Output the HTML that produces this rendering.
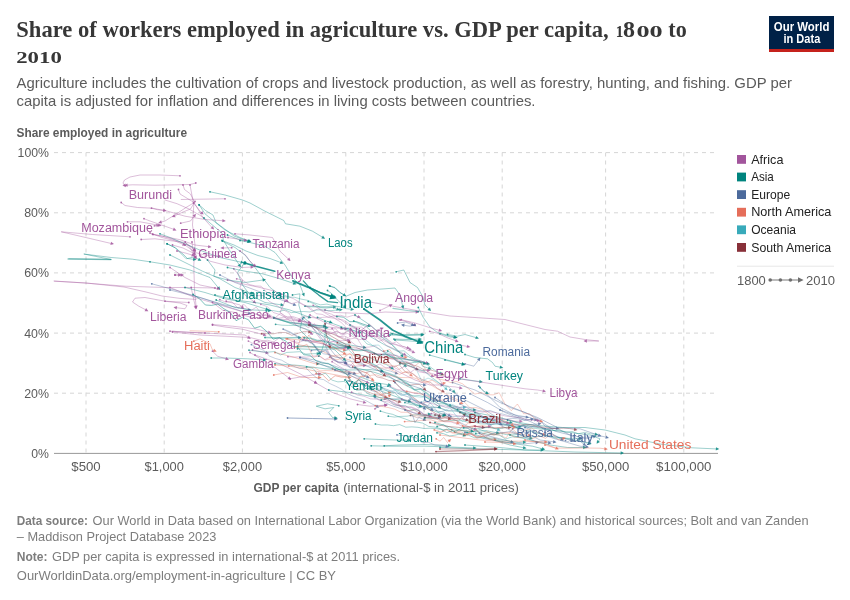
<!DOCTYPE html>
<html lang="en"><head><meta charset="utf-8"><title>Share of workers employed in agriculture vs. GDP per capita, 1800 to 2010</title>
<style>
html,body{margin:0;padding:0;background:#fff;}
body{width:850px;height:600px;overflow:hidden;}
svg{display:block;}
text{font-family:"Liberation Sans",sans-serif;}
.ttl{font-family:"Liberation Serif",serif;font-weight:700;fill:#373737;}
.sub{fill:#5b5b5b;font-size:15px;}
.tick{fill:#5b5b5b;font-size:13px;}
.ft{fill:#7d7d7d;font-size:13px;}
.lg{fill:#222;font-size:13px;}
.b{font-weight:700;}
</style></head><body>
<svg width="850" height="600" viewBox="0 0 850 600">
<rect width="850" height="600" fill="#fff"/>
<text class="ttl" font-size="24" y="36.8"><tspan x="16.3" textLength="592.3" lengthAdjust="spacingAndGlyphs">Share of workers employed in agriculture vs. GDP per capita,</tspan><tspan> </tspan><tspan x="615.7" font-size="17" textLength="7.6" lengthAdjust="spacingAndGlyphs">1</tspan><tspan x="622.9" textLength="12" lengthAdjust="spacingAndGlyphs">8</tspan><tspan x="636.4" font-size="17" textLength="26.2" lengthAdjust="spacingAndGlyphs">00</tspan><tspan> </tspan><tspan x="668.3" textLength="18.4" lengthAdjust="spacingAndGlyphs">to</tspan></text>
<text x="16.2" y="62.6" class="ttl" textLength="45.6" lengthAdjust="spacingAndGlyphs" font-size="17">2010</text>
<text x="16.5" y="88.1" class="sub" textLength="775.5" lengthAdjust="spacingAndGlyphs" >Agriculture includes the cultivation of crops and livestock production, as well as forestry, hunting, and fishing. GDP per</text>
<text x="16.5" y="106.2" class="sub" textLength="519.0" lengthAdjust="spacingAndGlyphs" >capita is adjusted for inflation and differences in living costs between countries.</text>
<rect x="769" y="16" width="65" height="36" fill="#002147"/><rect x="769" y="49" width="65" height="3" fill="#c5221c"/>
<text x="801.6" y="30.5" class="b" textLength="55.6" lengthAdjust="spacingAndGlyphs" text-anchor="middle" font-size="12" fill="#fff">Our World</text>
<text x="801.9" y="43.2" class="b" textLength="36.8" lengthAdjust="spacingAndGlyphs" text-anchor="middle" font-size="12" fill="#fff">in Data</text>
<text x="16.5" y="136.5" class="b" textLength="170.5" lengthAdjust="spacingAndGlyphs" font-size="12.5" fill="#5b5b5b">Share employed in agriculture</text>
<line x1="54" x2="718" y1="393.2" y2="393.2" stroke="#d6d6d6" stroke-width="1" stroke-dasharray="4,4"/>
<line x1="54" x2="718" y1="333.1" y2="333.1" stroke="#d6d6d6" stroke-width="1" stroke-dasharray="4,4"/>
<line x1="54" x2="718" y1="272.9" y2="272.9" stroke="#d6d6d6" stroke-width="1" stroke-dasharray="4,4"/>
<line x1="54" x2="718" y1="212.8" y2="212.8" stroke="#d6d6d6" stroke-width="1" stroke-dasharray="4,4"/>
<line x1="54" x2="718" y1="152.6" y2="152.6" stroke="#d6d6d6" stroke-width="1" stroke-dasharray="4,4"/>
<line x1="86.0" x2="86.0" y1="152.5" y2="453.4" stroke="#d6d6d6" stroke-width="1" stroke-dasharray="4,4"/>
<line x1="164.2" x2="164.2" y1="152.5" y2="453.4" stroke="#d6d6d6" stroke-width="1" stroke-dasharray="4,4"/>
<line x1="242.4" x2="242.4" y1="152.5" y2="453.4" stroke="#d6d6d6" stroke-width="1" stroke-dasharray="4,4"/>
<line x1="345.8" x2="345.8" y1="152.5" y2="453.4" stroke="#d6d6d6" stroke-width="1" stroke-dasharray="4,4"/>
<line x1="424.0" x2="424.0" y1="152.5" y2="453.4" stroke="#d6d6d6" stroke-width="1" stroke-dasharray="4,4"/>
<line x1="502.2" x2="502.2" y1="152.5" y2="453.4" stroke="#d6d6d6" stroke-width="1" stroke-dasharray="4,4"/>
<line x1="605.6" x2="605.6" y1="152.5" y2="453.4" stroke="#d6d6d6" stroke-width="1" stroke-dasharray="4,4"/>
<line x1="683.8" x2="683.8" y1="152.5" y2="453.4" stroke="#d6d6d6" stroke-width="1" stroke-dasharray="4,4"/>
<line x1="54" x2="718" y1="453.4" y2="453.4" stroke="#999" stroke-width="1"/>
<text x="49.0" y="457.8" class="tick" textLength="17.7" lengthAdjust="spacingAndGlyphs" text-anchor="end" >0%</text>
<text x="49.0" y="397.6" class="tick" textLength="24.8" lengthAdjust="spacingAndGlyphs" text-anchor="end" >20%</text>
<text x="49.0" y="337.5" class="tick" textLength="24.8" lengthAdjust="spacingAndGlyphs" text-anchor="end" >40%</text>
<text x="49.0" y="277.3" class="tick" textLength="24.8" lengthAdjust="spacingAndGlyphs" text-anchor="end" >60%</text>
<text x="49.0" y="217.2" class="tick" textLength="24.8" lengthAdjust="spacingAndGlyphs" text-anchor="end" >80%</text>
<text x="49.0" y="157.0" class="tick" textLength="31.4" lengthAdjust="spacingAndGlyphs" text-anchor="end" >100%</text>
<text x="86.0" y="471.3" class="tick" textLength="29.4" lengthAdjust="spacingAndGlyphs" text-anchor="middle" >$500</text>
<text x="164.2" y="471.3" class="tick" textLength="39.3" lengthAdjust="spacingAndGlyphs" text-anchor="middle" >$1,000</text>
<text x="242.4" y="471.3" class="tick" textLength="39.3" lengthAdjust="spacingAndGlyphs" text-anchor="middle" >$2,000</text>
<text x="345.8" y="471.3" class="tick" textLength="39.3" lengthAdjust="spacingAndGlyphs" text-anchor="middle" >$5,000</text>
<text x="424.0" y="471.3" class="tick" textLength="47.4" lengthAdjust="spacingAndGlyphs" text-anchor="middle" >$10,000</text>
<text x="502.2" y="471.3" class="tick" textLength="47.4" lengthAdjust="spacingAndGlyphs" text-anchor="middle" >$20,000</text>
<text x="605.6" y="471.3" class="tick" textLength="47.4" lengthAdjust="spacingAndGlyphs" text-anchor="middle" >$50,000</text>
<text x="683.8" y="471.3" class="tick" textLength="55.4" lengthAdjust="spacingAndGlyphs" text-anchor="middle" >$100,000</text>
<text y="492" font-size="13" fill="#5b5b5b"><tspan x="253.5" font-weight="700" textLength="85.4" lengthAdjust="spacingAndGlyphs">GDP per capita</tspan><tspan> </tspan><tspan x="343.2" textLength="175.8" lengthAdjust="spacingAndGlyphs">(international-$ in 2011 prices)</tspan></text>
<g fill="none" stroke-linejoin="round" stroke-linecap="round">
<path d="M180.0,175.8 L160.0,175.0 L140.0,175.0 L130.0,177.0 L124.5,180.0 L123.0,183.0 L125.0,186.0" stroke="#a2559c" stroke-width="0.70" stroke-opacity="0.55"/>
<circle cx="180.0" cy="175.8" r="0.9" fill="#a2559c" fill-opacity="0.80" stroke="none"/>
<path d="M125.9,187.3 L125.4,183.5 L122.5,185.4 Z" fill="#a2559c" fill-opacity="0.80" stroke="none"/>
<path d="M195.8,183.0 L190.0,184.5 L167.5,185.0 L155.0,185.2 L132.5,184.8 L125.8,185.2" stroke="#a2559c" stroke-width="0.70" stroke-opacity="0.55"/>
<circle cx="195.8" cy="183.0" r="0.9" fill="#a2559c" fill-opacity="0.80" stroke="none"/>
<path d="M124.2,185.4 L127.7,186.8 L127.5,183.4 Z" fill="#a2559c" fill-opacity="0.80" stroke="none"/>
<path d="M225.0,198.8 L200.0,199.2 L181.2,199.5" stroke="#a2559c" stroke-width="0.70" stroke-opacity="0.55"/>
<circle cx="225.0" cy="198.8" r="0.9" fill="#a2559c" fill-opacity="0.80" stroke="none"/>
<path d="M121.2,202.5 L125.0,205.5 L137.5,207.5 L152.5,208.2 L167.5,211.2 L185.0,216.2 L205.0,219.5 L224.2,220.8" stroke="#a2559c" stroke-width="0.70" stroke-opacity="0.55"/>
<circle cx="121.2" cy="202.5" r="0.9" fill="#a2559c" fill-opacity="0.80" stroke="none"/>
<path d="M225.8,220.9 L222.5,218.9 L222.3,222.3 Z" fill="#a2559c" fill-opacity="0.80" stroke="none"/>
<path d="M130.0,236.8 L92.5,234.5 L61.2,231.8 L75.0,235.0 L112.5,243.8" stroke="#a2559c" stroke-width="0.70" stroke-opacity="0.55"/>
<circle cx="130.0" cy="236.8" r="0.9" fill="#a2559c" fill-opacity="0.80" stroke="none"/>
<path d="M114.0,244.1 L111.1,241.7 L110.3,245.0 Z" fill="#a2559c" fill-opacity="0.80" stroke="none"/>
<path d="M150.0,261.8 L170.0,265.0 L190.0,270.0 L210.0,277.5 L219.2,288.8" stroke="#00847e" stroke-width="0.70" stroke-opacity="0.55"/>
<circle cx="150.0" cy="261.8" r="0.9" fill="#00847e" fill-opacity="0.80" stroke="none"/>
<path d="M220.2,289.9 L219.4,286.2 L216.8,288.4 Z" fill="#00847e" fill-opacity="0.80" stroke="none"/>
<path d="M150.0,261.8 L132.5,259.2 L111.2,257.5 L83.8,254.0 L111.2,259.5 L68.8,258.8" stroke="#00847e" stroke-width="0.70" stroke-opacity="0.55"/>
<path d="M215.0,288.0 L190.0,287.5 L165.0,287.5 L125.0,286.2 L85.0,283.0 L54.5,281.2" stroke="#a2559c" stroke-width="0.70" stroke-opacity="0.55"/>
<circle cx="215.0" cy="288.0" r="0.9" fill="#a2559c" fill-opacity="0.80" stroke="none"/>
<path d="M151.8,283.8 L175.0,290.0 L200.0,297.5 L225.0,305.0 L250.0,310.0" stroke="#4c6a9c" stroke-width="0.70" stroke-opacity="0.55"/>
<circle cx="151.8" cy="283.8" r="0.9" fill="#4c6a9c" fill-opacity="0.80" stroke="none"/>
<path d="M251.5,310.3 L248.5,308.0 L247.8,311.3 Z" fill="#4c6a9c" fill-opacity="0.80" stroke="none"/>
<path d="M199.2,205.0 L205.0,213.8 L212.5,220.0 L225.0,230.0 L240.0,237.5 L250.0,241.2" stroke="#00847e" stroke-width="0.70" stroke-opacity="0.55"/>
<circle cx="199.2" cy="205.0" r="0.9" fill="#00847e" fill-opacity="0.80" stroke="none"/>
<path d="M251.5,241.8 L248.9,239.0 L247.7,242.2 Z" fill="#00847e" fill-opacity="0.80" stroke="none"/>
<path d="M167.0,243.8 L175.0,247.5 L186.2,258.8 L193.8,257.0 L200.0,260.0" stroke="#00847e" stroke-width="0.70" stroke-opacity="0.55"/>
<circle cx="167.0" cy="243.8" r="0.9" fill="#00847e" fill-opacity="0.80" stroke="none"/>
<path d="M201.4,260.7 L199.1,257.7 L197.6,260.7 Z" fill="#00847e" fill-opacity="0.80" stroke="none"/>
<path d="M190.0,185.0 L193.8,205.0 L192.5,225.0 L195.0,245.0 L193.8,265.0 L194.5,290.0 L196.2,307.5" stroke="#a2559c" stroke-width="0.70" stroke-opacity="0.55"/>
<circle cx="190.0" cy="185.0" r="0.9" fill="#a2559c" fill-opacity="0.80" stroke="none"/>
<path d="M196.4,309.0 L197.8,305.5 L194.4,305.8 Z" fill="#a2559c" fill-opacity="0.80" stroke="none"/>
<path d="M175.0,275.0 L180.0,275.0" stroke="#a2559c" stroke-width="0.70" stroke-opacity="0.55"/>
<circle cx="175.0" cy="275.0" r="0.9" fill="#a2559c" fill-opacity="0.80" stroke="none"/>
<path d="M181.6,275.0 L178.1,273.3 L178.1,276.7 Z" fill="#a2559c" fill-opacity="0.80" stroke="none"/>
<path d="M127.5,221.8 L140.0,221.8 L160.0,225.5" stroke="#a2559c" stroke-width="0.70" stroke-opacity="0.55"/>
<circle cx="127.5" cy="221.8" r="0.9" fill="#a2559c" fill-opacity="0.80" stroke="none"/>
<path d="M161.5,225.8 L158.5,223.5 L157.9,226.8 Z" fill="#a2559c" fill-opacity="0.80" stroke="none"/>
<path d="M141.2,239.5 L155.0,238.8 L185.0,242.5 L192.5,247.5 L195.0,251.2" stroke="#a2559c" stroke-width="0.70" stroke-opacity="0.55"/>
<circle cx="141.2" cy="239.5" r="0.9" fill="#a2559c" fill-opacity="0.80" stroke="none"/>
<path d="M195.9,252.5 L195.4,248.8 L192.5,250.6 Z" fill="#a2559c" fill-opacity="0.80" stroke="none"/>
<path d="M152.5,234.2 L162.5,236.2 L175.0,240.0 L190.0,246.2 L195.0,250.0" stroke="#a2559c" stroke-width="0.70" stroke-opacity="0.55"/>
<circle cx="152.5" cy="234.2" r="0.9" fill="#a2559c" fill-opacity="0.80" stroke="none"/>
<path d="M196.2,250.9 L194.5,247.5 L192.5,250.2 Z" fill="#a2559c" fill-opacity="0.80" stroke="none"/>
<path d="M210.0,191.8 L225.0,195.0 L242.5,200.0 L250.0,203.0 L265.0,211.2 L283.8,220.5 L285.5,223.8 L300.0,226.2 L312.5,231.2 L323.8,238.0" stroke="#00847e" stroke-width="0.70" stroke-opacity="0.55"/>
<circle cx="210.0" cy="191.8" r="0.9" fill="#00847e" fill-opacity="0.80" stroke="none"/>
<path d="M325.1,238.8 L323.0,235.6 L321.3,238.5 Z" fill="#00847e" fill-opacity="0.80" stroke="none"/>
<path d="M54.0,281.0 L86.0,283.0 L124.0,287.0 L146.0,292.0 L162.0,296.0 L180.0,298.4 L196.0,299.4" stroke="#a2559c" stroke-width="0.70" stroke-opacity="0.55"/>
<path d="M68.0,259.0 L90.0,259.2 L111.0,259.5" stroke="#00847e" stroke-width="1.40" stroke-opacity="0.40"/>
<path d="M235.0,233.8 L250.0,235.0 L272.5,237.5 L280.0,251.2 L289.5,260.0" stroke="#a2559c" stroke-width="0.70" stroke-opacity="0.55"/>
<circle cx="235.0" cy="233.8" r="0.9" fill="#a2559c" fill-opacity="0.80" stroke="none"/>
<path d="M290.6,261.1 L289.3,257.5 L287.0,260.0 Z" fill="#a2559c" fill-opacity="0.80" stroke="none"/>
<path d="M240.0,240.5 L250.0,242.5 L265.0,246.2 L275.0,252.5 L285.0,265.0 L292.5,277.5 L300.0,285.0 L303.8,295.0" stroke="#00847e" stroke-width="0.70" stroke-opacity="0.55"/>
<circle cx="240.0" cy="240.5" r="0.9" fill="#00847e" fill-opacity="0.80" stroke="none"/>
<path d="M304.3,296.5 L304.7,292.7 L301.5,293.9 Z" fill="#00847e" fill-opacity="0.80" stroke="none"/>
<path d="M244.8,263.0 L256.7,266.6 L274.8,271.2" stroke="#00847e" stroke-width="1.50" stroke-opacity="0.85"/>
<circle cx="244.8" cy="263.0" r="1.7" fill="#00847e" fill-opacity="1.00" stroke="none"/>
<path d="M292.9,280.9 L308.4,287.3 L321.4,293.2 L333.6,297.5" stroke="#00847e" stroke-width="1.80" stroke-opacity="0.85"/>
<path d="M336.2,298.4 L331.5,293.5 L329.4,299.3 Z" fill="#00847e" fill-opacity="1.00" stroke="none"/>
<path d="M303.3,280.9 L310.4,288.6 L318.8,295.1 L327.9,301.6 L337.6,302.6" stroke="#00847e" stroke-width="1.30" stroke-opacity="0.80"/>
<path d="M329.5,285.8 L335.0,287.5 L340.0,292.5 L346.2,296.2 L355.0,292.5 L367.5,290.0 L385.0,288.8 L395.0,288.0 L400.0,295.0 L403.0,307.5" stroke="#00847e" stroke-width="0.70" stroke-opacity="0.55"/>
<circle cx="329.5" cy="285.8" r="0.9" fill="#00847e" fill-opacity="0.80" stroke="none"/>
<path d="M403.4,309.0 L404.2,305.3 L400.9,306.1 Z" fill="#00847e" fill-opacity="0.80" stroke="none"/>
<path d="M396.2,271.8 L403.8,270.0 L410.0,282.5 L417.5,287.5 L422.5,296.2 L425.0,305.0 L430.0,310.0" stroke="#00847e" stroke-width="0.70" stroke-opacity="0.55"/>
<circle cx="396.2" cy="271.8" r="0.9" fill="#00847e" fill-opacity="0.80" stroke="none"/>
<path d="M431.1,311.1 L429.9,307.5 L427.5,309.9 Z" fill="#00847e" fill-opacity="0.80" stroke="none"/>
<path d="M327.5,290.5 L332.5,294.2 L337.5,300.0 L345.0,307.5" stroke="#00847e" stroke-width="0.70" stroke-opacity="0.55"/>
<circle cx="327.5" cy="290.5" r="0.9" fill="#00847e" fill-opacity="0.80" stroke="none"/>
<path d="M346.1,308.6 L344.9,305.0 L342.5,307.4 Z" fill="#00847e" fill-opacity="0.80" stroke="none"/>
<path d="M380.0,310.5 L386.2,307.5 L391.2,305.0" stroke="#a2559c" stroke-width="0.70" stroke-opacity="0.55"/>
<circle cx="380.0" cy="310.5" r="0.9" fill="#a2559c" fill-opacity="0.80" stroke="none"/>
<path d="M392.6,304.3 L388.8,304.3 L390.3,307.4 Z" fill="#a2559c" fill-opacity="0.80" stroke="none"/>
<path d="M370.0,302.0 L400.0,307.5 L425.0,312.0 L450.0,316.0 L475.0,317.5 L505.0,319.5 L525.0,324.5 L545.0,329.5 L557.5,331.2 L570.0,337.0 L585.0,339.5 L598.8,341.0 L592.0,341.0 L585.0,341.0" stroke="#a2559c" stroke-width="0.70" stroke-opacity="0.55"/>
<circle cx="370.0" cy="302.0" r="0.9" fill="#a2559c" fill-opacity="0.80" stroke="none"/>
<path d="M583.5,341.0 L586.9,342.7 L586.9,339.3 Z" fill="#a2559c" fill-opacity="0.80" stroke="none"/>
<path d="M465.0,363.8 L473.8,366.2 L479.5,358.8" stroke="#4c6a9c" stroke-width="0.70" stroke-opacity="0.55"/>
<circle cx="465.0" cy="363.8" r="0.9" fill="#4c6a9c" fill-opacity="0.80" stroke="none"/>
<path d="M480.4,357.5 L477.0,359.2 L479.7,361.3 Z" fill="#4c6a9c" fill-opacity="0.80" stroke="none"/>
<path d="M465.0,354.5 L475.0,357.5 L487.5,358.8 L492.5,362.5 L495.0,366.2 L501.8,367.5" stroke="#00847e" stroke-width="0.70" stroke-opacity="0.55"/>
<circle cx="465.0" cy="354.5" r="0.9" fill="#00847e" fill-opacity="0.80" stroke="none"/>
<path d="M503.3,367.8 L500.2,365.5 L499.6,368.8 Z" fill="#00847e" fill-opacity="0.80" stroke="none"/>
<path d="M447.5,334.5 L457.5,336.2 L465.0,334.5 L477.5,338.0" stroke="#00847e" stroke-width="0.70" stroke-opacity="0.55"/>
<circle cx="447.5" cy="334.5" r="0.9" fill="#00847e" fill-opacity="0.80" stroke="none"/>
<path d="M479.0,338.4 L476.2,335.9 L475.2,339.1 Z" fill="#00847e" fill-opacity="0.80" stroke="none"/>
<path d="M440.0,333.8 L450.0,337.0 L456.2,337.5" stroke="#00847e" stroke-width="0.70" stroke-opacity="0.55"/>
<circle cx="440.0" cy="333.8" r="0.9" fill="#00847e" fill-opacity="0.80" stroke="none"/>
<path d="M457.8,337.6 L454.5,335.7 L454.3,339.1 Z" fill="#00847e" fill-opacity="0.80" stroke="none"/>
<path d="M460.0,345.0 L468.8,346.8" stroke="#a2559c" stroke-width="0.70" stroke-opacity="0.55"/>
<circle cx="460.0" cy="345.0" r="0.9" fill="#a2559c" fill-opacity="0.80" stroke="none"/>
<path d="M470.3,347.1 L467.3,344.7 L466.6,348.1 Z" fill="#a2559c" fill-opacity="0.80" stroke="none"/>
<path d="M445.0,360.0 L463.8,364.5" stroke="#00847e" stroke-width="0.70" stroke-opacity="0.55"/>
<circle cx="445.0" cy="360.0" r="0.9" fill="#00847e" fill-opacity="0.80" stroke="none"/>
<path d="M465.3,364.9 L462.3,362.4 L461.5,365.7 Z" fill="#00847e" fill-opacity="0.80" stroke="none"/>
<path d="M460.0,378.8 L481.2,381.8" stroke="#00847e" stroke-width="0.70" stroke-opacity="0.55"/>
<circle cx="460.0" cy="378.8" r="0.9" fill="#00847e" fill-opacity="0.80" stroke="none"/>
<path d="M482.8,382.0 L479.6,379.8 L479.2,383.2 Z" fill="#00847e" fill-opacity="0.80" stroke="none"/>
<path d="M435.0,375.0 L450.0,377.5 L475.0,381.2 L500.0,385.0 L525.0,388.8 L537.5,390.0 L544.5,391.2" stroke="#a2559c" stroke-width="0.70" stroke-opacity="0.55"/>
<circle cx="435.0" cy="375.0" r="0.9" fill="#a2559c" fill-opacity="0.80" stroke="none"/>
<path d="M546.0,391.5 L543.0,389.2 L542.4,392.6 Z" fill="#a2559c" fill-opacity="0.80" stroke="none"/>
<path d="M452.5,382.5 L475.0,390.0 L500.0,402.5 L525.0,412.5 L537.5,417.5 L557.5,427.5 L580.0,428.8 L600.0,435.8" stroke="#4c6a9c" stroke-width="0.70" stroke-opacity="0.55"/>
<circle cx="452.5" cy="382.5" r="0.9" fill="#4c6a9c" fill-opacity="0.80" stroke="none"/>
<path d="M601.5,436.3 L598.8,433.5 L597.7,436.7 Z" fill="#4c6a9c" fill-opacity="0.80" stroke="none"/>
<path d="M470.0,393.8 L487.5,402.5 L505.0,412.5 L525.0,420.5 L532.5,419.0" stroke="#4c6a9c" stroke-width="0.70" stroke-opacity="0.55"/>
<circle cx="470.0" cy="393.8" r="0.9" fill="#4c6a9c" fill-opacity="0.80" stroke="none"/>
<path d="M534.0,418.7 L530.3,417.7 L531.0,421.0 Z" fill="#4c6a9c" fill-opacity="0.80" stroke="none"/>
<path d="M478.8,386.2 L485.0,392.5 L500.0,407.5 L515.0,415.0 L532.5,422.5 L550.0,432.5 L562.5,440.0" stroke="#4c6a9c" stroke-width="0.70" stroke-opacity="0.55"/>
<circle cx="478.8" cy="386.2" r="0.9" fill="#4c6a9c" fill-opacity="0.80" stroke="none"/>
<path d="M563.8,440.8 L561.8,437.6 L560.0,440.5 Z" fill="#4c6a9c" fill-opacity="0.80" stroke="none"/>
<path d="M450.0,390.0 L465.0,400.0 L485.0,410.0 L505.0,422.5 L525.0,432.5 L540.0,440.0 L555.0,442.0" stroke="#4c6a9c" stroke-width="0.70" stroke-opacity="0.55"/>
<circle cx="450.0" cy="390.0" r="0.9" fill="#4c6a9c" fill-opacity="0.80" stroke="none"/>
<path d="M556.5,442.2 L553.4,440.1 L552.9,443.4 Z" fill="#4c6a9c" fill-opacity="0.80" stroke="none"/>
<path d="M460.0,403.8 L480.0,415.0 L500.0,425.0 L520.0,435.0 L535.0,441.2 L550.0,443.0" stroke="#4c6a9c" stroke-width="0.70" stroke-opacity="0.55"/>
<circle cx="460.0" cy="403.8" r="0.9" fill="#4c6a9c" fill-opacity="0.80" stroke="none"/>
<path d="M551.5,443.2 L548.4,441.1 L548.0,444.5 Z" fill="#4c6a9c" fill-opacity="0.80" stroke="none"/>
<path d="M495.0,397.5 L510.0,407.5 L525.0,412.5 L540.0,420.0 L545.0,426.2 L560.0,430.0 L575.0,437.5 L585.0,445.0" stroke="#4c6a9c" stroke-width="0.70" stroke-opacity="0.55"/>
<circle cx="495.0" cy="397.5" r="0.9" fill="#4c6a9c" fill-opacity="0.80" stroke="none"/>
<path d="M586.2,445.9 L584.5,442.5 L582.5,445.2 Z" fill="#4c6a9c" fill-opacity="0.80" stroke="none"/>
<path d="M500.0,410.0 L515.0,415.0 L530.0,417.5 L542.5,422.5 L555.0,431.2 L570.0,435.0 L586.2,438.8 L595.0,436.2" stroke="#4c6a9c" stroke-width="0.70" stroke-opacity="0.55"/>
<circle cx="500.0" cy="410.0" r="0.9" fill="#4c6a9c" fill-opacity="0.80" stroke="none"/>
<path d="M596.5,435.8 L592.7,435.1 L593.7,438.4 Z" fill="#4c6a9c" fill-opacity="0.80" stroke="none"/>
<path d="M445.0,415.0 L465.0,425.0 L485.0,435.0 L502.5,439.5 L512.5,442.0" stroke="#4c6a9c" stroke-width="0.70" stroke-opacity="0.55"/>
<circle cx="445.0" cy="415.0" r="0.9" fill="#4c6a9c" fill-opacity="0.80" stroke="none"/>
<path d="M514.0,442.4 L511.1,439.9 L510.3,443.2 Z" fill="#4c6a9c" fill-opacity="0.80" stroke="none"/>
<path d="M465.0,432.5 L485.0,438.8 L505.0,442.5 L525.0,443.8 L537.5,442.5" stroke="#4c6a9c" stroke-width="0.70" stroke-opacity="0.55"/>
<circle cx="465.0" cy="432.5" r="0.9" fill="#4c6a9c" fill-opacity="0.80" stroke="none"/>
<path d="M539.0,442.3 L535.5,441.0 L535.8,444.4 Z" fill="#4c6a9c" fill-opacity="0.80" stroke="none"/>
<path d="M525.0,427.5 L540.0,433.8 L555.0,438.8 L567.5,442.5 L580.0,446.2 L587.5,447.0" stroke="#4c6a9c" stroke-width="0.70" stroke-opacity="0.55"/>
<circle cx="525.0" cy="427.5" r="0.9" fill="#4c6a9c" fill-opacity="0.80" stroke="none"/>
<path d="M589.0,447.2 L585.8,445.1 L585.5,448.5 Z" fill="#4c6a9c" fill-opacity="0.80" stroke="none"/>
<path d="M545.0,432.5 L560.0,437.5 L570.0,440.0 L580.0,441.2 L590.0,443.0" stroke="#4c6a9c" stroke-width="0.70" stroke-opacity="0.55"/>
<circle cx="545.0" cy="432.5" r="0.9" fill="#4c6a9c" fill-opacity="0.80" stroke="none"/>
<path d="M591.5,443.3 L588.5,441.0 L587.9,444.4 Z" fill="#4c6a9c" fill-opacity="0.80" stroke="none"/>
<path d="M512.5,428.8 L525.0,425.0 L540.0,423.8" stroke="#4c6a9c" stroke-width="0.70" stroke-opacity="0.55"/>
<circle cx="512.5" cy="428.8" r="0.9" fill="#4c6a9c" fill-opacity="0.80" stroke="none"/>
<path d="M541.5,423.6 L538.0,422.2 L538.3,425.6 Z" fill="#4c6a9c" fill-opacity="0.80" stroke="none"/>
<path d="M580.0,437.5 L590.0,437.0 L600.0,435.8 L607.5,437.5" stroke="#4c6a9c" stroke-width="0.70" stroke-opacity="0.55"/>
<circle cx="580.0" cy="437.5" r="0.9" fill="#4c6a9c" fill-opacity="0.80" stroke="none"/>
<path d="M609.0,437.9 L606.1,435.4 L605.3,438.7 Z" fill="#4c6a9c" fill-opacity="0.80" stroke="none"/>
<path d="M480.0,387.5 L483.8,391.2 L487.5,393.2" stroke="#00847e" stroke-width="0.70" stroke-opacity="0.55"/>
<circle cx="480.0" cy="387.5" r="0.9" fill="#00847e" fill-opacity="0.80" stroke="none"/>
<path d="M488.9,394.0 L486.7,390.9 L485.1,393.9 Z" fill="#00847e" fill-opacity="0.80" stroke="none"/>
<path d="M507.5,420.0 L532.5,425.0 L562.5,427.5 L585.0,427.5 L605.0,430.0 L625.0,435.0 L635.0,438.8 L641.2,440.0 L660.0,444.0 L692.0,447.8 L717.8,449.0" stroke="#00847e" stroke-width="0.70" stroke-opacity="0.55"/>
<circle cx="507.5" cy="420.0" r="0.9" fill="#00847e" fill-opacity="0.80" stroke="none"/>
<path d="M719.3,449.1 L716.0,447.2 L715.8,450.6 Z" fill="#00847e" fill-opacity="0.80" stroke="none"/>
<path d="M450.0,405.0 L475.0,415.0 L500.0,422.5 L525.0,430.0 L550.0,436.2 L575.0,440.0 L590.0,443.8" stroke="#00847e" stroke-width="0.70" stroke-opacity="0.55"/>
<circle cx="450.0" cy="405.0" r="0.9" fill="#00847e" fill-opacity="0.80" stroke="none"/>
<path d="M591.5,444.1 L588.6,441.6 L587.8,445.0 Z" fill="#00847e" fill-opacity="0.80" stroke="none"/>
<path d="M475.0,412.5 L500.0,417.5 L525.0,425.0 L550.0,430.0 L570.0,432.5 L590.0,435.0 L600.0,438.8 L597.5,442.5" stroke="#00847e" stroke-width="0.70" stroke-opacity="0.55"/>
<circle cx="475.0" cy="412.5" r="0.9" fill="#00847e" fill-opacity="0.80" stroke="none"/>
<path d="M596.6,443.8 L600.0,441.9 L597.1,440.0 Z" fill="#00847e" fill-opacity="0.80" stroke="none"/>
<path d="M440.0,447.5 L475.0,448.8 L525.0,450.0 L575.0,452.0 L622.5,453.0" stroke="#00847e" stroke-width="0.70" stroke-opacity="0.55"/>
<circle cx="440.0" cy="447.5" r="0.9" fill="#00847e" fill-opacity="0.80" stroke="none"/>
<path d="M624.0,453.0 L620.7,451.3 L620.6,454.7 Z" fill="#00847e" fill-opacity="0.80" stroke="none"/>
<path d="M465.0,445.0 L500.0,447.5 L525.0,450.0 L542.5,450.0" stroke="#00847e" stroke-width="0.70" stroke-opacity="0.55"/>
<circle cx="465.0" cy="445.0" r="0.9" fill="#00847e" fill-opacity="0.80" stroke="none"/>
<path d="M544.0,450.0 L540.6,448.3 L540.6,451.7 Z" fill="#00847e" fill-opacity="0.80" stroke="none"/>
<path d="M495.0,440.0 L515.0,443.8 L532.5,446.2 L543.8,449.2" stroke="#00847e" stroke-width="0.70" stroke-opacity="0.55"/>
<circle cx="495.0" cy="440.0" r="0.9" fill="#00847e" fill-opacity="0.80" stroke="none"/>
<path d="M545.2,449.6 L542.4,447.1 L541.5,450.4 Z" fill="#00847e" fill-opacity="0.80" stroke="none"/>
<path d="M510.0,435.0 L530.0,440.0 L550.0,445.0 L567.5,447.5 L585.0,447.5" stroke="#00847e" stroke-width="0.70" stroke-opacity="0.55"/>
<circle cx="510.0" cy="435.0" r="0.9" fill="#00847e" fill-opacity="0.80" stroke="none"/>
<path d="M586.5,447.5 L583.1,445.8 L583.1,449.2 Z" fill="#00847e" fill-opacity="0.80" stroke="none"/>
<path d="M435.0,422.5 L460.0,430.0 L485.0,437.5 L510.0,445.0 L525.0,448.0" stroke="#00847e" stroke-width="0.70" stroke-opacity="0.55"/>
<circle cx="435.0" cy="422.5" r="0.9" fill="#00847e" fill-opacity="0.80" stroke="none"/>
<path d="M526.5,448.3 L523.5,446.0 L522.8,449.3 Z" fill="#00847e" fill-opacity="0.80" stroke="none"/>
<path d="M457.5,409.5 L465.0,409.5 L475.0,410.0" stroke="#00847e" stroke-width="0.70" stroke-opacity="0.55"/>
<circle cx="457.5" cy="409.5" r="0.9" fill="#00847e" fill-opacity="0.80" stroke="none"/>
<path d="M476.5,410.1 L473.2,408.2 L473.1,411.6 Z" fill="#00847e" fill-opacity="0.80" stroke="none"/>
<path d="M440.0,435.0 L460.0,437.5 L480.0,440.0 L500.0,441.2 L525.0,441.2 L546.2,442.0" stroke="#e56e5a" stroke-width="0.70" stroke-opacity="0.55"/>
<circle cx="440.0" cy="435.0" r="0.9" fill="#e56e5a" fill-opacity="0.80" stroke="none"/>
<path d="M547.8,442.1 L544.5,440.2 L544.3,443.6 Z" fill="#e56e5a" fill-opacity="0.80" stroke="none"/>
<path d="M485.0,442.0 L500.0,442.5 L515.0,443.8" stroke="#e56e5a" stroke-width="0.70" stroke-opacity="0.55"/>
<circle cx="485.0" cy="442.0" r="0.9" fill="#e56e5a" fill-opacity="0.80" stroke="none"/>
<path d="M516.5,443.9 L513.3,441.9 L513.0,445.3 Z" fill="#e56e5a" fill-opacity="0.80" stroke="none"/>
<path d="M545.0,445.0 L555.0,448.0 L570.0,448.2 L585.0,448.0 L600.0,448.2 L606.2,449.0" stroke="#e56e5a" stroke-width="0.70" stroke-opacity="0.55"/>
<circle cx="545.0" cy="445.0" r="0.9" fill="#e56e5a" fill-opacity="0.80" stroke="none"/>
<path d="M607.8,449.2 L604.6,447.1 L604.2,450.5 Z" fill="#e56e5a" fill-opacity="0.80" stroke="none"/>
<path d="M525.0,440.0 L545.0,443.8 L557.5,448.8" stroke="#e56e5a" stroke-width="0.70" stroke-opacity="0.55"/>
<circle cx="525.0" cy="440.0" r="0.9" fill="#e56e5a" fill-opacity="0.80" stroke="none"/>
<path d="M558.9,449.3 L556.4,446.5 L555.1,449.6 Z" fill="#e56e5a" fill-opacity="0.80" stroke="none"/>
<path d="M460.0,412.5 L465.0,415.0 L462.5,418.8 L467.5,420.0" stroke="#883039" stroke-width="0.70" stroke-opacity="0.55"/>
<circle cx="460.0" cy="412.5" r="0.9" fill="#883039" fill-opacity="0.80" stroke="none"/>
<path d="M469.0,420.4 L466.1,417.9 L465.3,421.2 Z" fill="#883039" fill-opacity="0.80" stroke="none"/>
<path d="M435.0,415.0 L450.0,417.5 L460.0,419.5 L465.0,414.0" stroke="#883039" stroke-width="0.70" stroke-opacity="0.55"/>
<circle cx="435.0" cy="415.0" r="0.9" fill="#883039" fill-opacity="0.80" stroke="none"/>
<path d="M466.0,412.9 L462.5,414.2 L465.0,416.5 Z" fill="#883039" fill-opacity="0.80" stroke="none"/>
<path d="M475.0,426.2 L485.0,427.5 L500.0,428.0 L510.0,427.5" stroke="#883039" stroke-width="0.70" stroke-opacity="0.55"/>
<circle cx="475.0" cy="426.2" r="0.9" fill="#883039" fill-opacity="0.80" stroke="none"/>
<path d="M511.5,427.4 L508.1,425.9 L508.2,429.3 Z" fill="#883039" fill-opacity="0.80" stroke="none"/>
<path d="M440.0,449.0 L465.0,449.0 L485.0,449.2 L496.2,448.8" stroke="#883039" stroke-width="0.70" stroke-opacity="0.55"/>
<circle cx="440.0" cy="449.0" r="0.9" fill="#883039" fill-opacity="0.80" stroke="none"/>
<path d="M497.8,448.7 L494.3,447.1 L494.5,450.5 Z" fill="#883039" fill-opacity="0.80" stroke="none"/>
<path d="M430.0,422.5 L445.0,426.2 L460.0,427.5 L472.5,426.2 L483.8,427.5" stroke="#883039" stroke-width="0.70" stroke-opacity="0.55"/>
<circle cx="430.0" cy="422.5" r="0.9" fill="#883039" fill-opacity="0.80" stroke="none"/>
<path d="M485.3,427.7 L482.1,425.6 L481.7,429.0 Z" fill="#883039" fill-opacity="0.80" stroke="none"/>
<path d="M475.0,426.2 L482.5,427.5 L490.0,426.2" stroke="#a2559c" stroke-width="0.70" stroke-opacity="0.55"/>
<circle cx="475.0" cy="426.2" r="0.9" fill="#a2559c" fill-opacity="0.80" stroke="none"/>
<path d="M491.5,426.0 L487.9,424.9 L488.4,428.2 Z" fill="#a2559c" fill-opacity="0.80" stroke="none"/>
<path d="M364.0,309.0 L380.0,320.0 L392.5,330.0 L405.0,336.2 L420.8,342.5" stroke="#00847e" stroke-width="1.70" stroke-opacity="0.85"/>
<circle cx="364.0" cy="309.0" r="0.9" fill="#00847e" fill-opacity="1.00" stroke="none"/>
<path d="M423.4,343.5 L418.8,338.4 L416.5,344.1 Z" fill="#00847e" fill-opacity="1.00" stroke="none"/>
<path d="M390.0,333.0 L402.5,336.0 L411.2,339.5" stroke="#00847e" stroke-width="1.20" stroke-opacity="0.50"/>
<path d="M287.5,418.0 L312.5,418.5 L336.2,419.0" stroke="#4c6a9c" stroke-width="1.00" stroke-opacity="0.55"/>
<circle cx="287.5" cy="418.0" r="0.9" fill="#4c6a9c" fill-opacity="0.80" stroke="none"/>
<path d="M337.8,419.0 L334.4,417.3 L334.4,420.7 Z" fill="#4c6a9c" fill-opacity="0.80" stroke="none"/>
<path d="M338.8,405.8 L327.5,403.8 L316.2,406.2 L325.0,408.8 L333.8,407.5 L328.8,412.5 L332.5,417.5 L336.2,418.0" stroke="#00847e" stroke-width="0.70" stroke-opacity="0.55"/>
<circle cx="338.8" cy="405.8" r="0.9" fill="#00847e" fill-opacity="0.80" stroke="none"/>
<path d="M337.8,418.2 L334.6,416.1 L334.2,419.4 Z" fill="#00847e" fill-opacity="0.80" stroke="none"/>
<path d="M364.2,438.8 L380.0,439.5 L395.0,440.0 L410.0,440.2" stroke="#00847e" stroke-width="0.70" stroke-opacity="0.55"/>
<circle cx="364.2" cy="438.8" r="0.9" fill="#00847e" fill-opacity="0.80" stroke="none"/>
<path d="M411.5,440.3 L408.2,438.5 L408.1,441.9 Z" fill="#00847e" fill-opacity="0.80" stroke="none"/>
<path d="M371.2,445.8 L390.0,446.2 L425.0,446.2 L450.0,447.0 L475.0,448.0" stroke="#00847e" stroke-width="0.70" stroke-opacity="0.55"/>
<circle cx="371.2" cy="445.8" r="0.9" fill="#00847e" fill-opacity="0.80" stroke="none"/>
<path d="M476.5,448.1 L473.2,446.2 L473.1,449.6 Z" fill="#00847e" fill-opacity="0.80" stroke="none"/>
<path d="M384.2,445.8 L400.0,445.0 L425.0,444.5 L450.0,445.5" stroke="#00847e" stroke-width="0.70" stroke-opacity="0.55"/>
<circle cx="384.2" cy="445.8" r="0.9" fill="#00847e" fill-opacity="0.80" stroke="none"/>
<path d="M451.5,445.6 L448.2,443.7 L448.1,447.1 Z" fill="#00847e" fill-opacity="0.80" stroke="none"/>
<path d="M297.5,347.5 L300.0,340.0 L303.0,336.2 L305.5,341.2 L308.8,335.0 L312.5,340.0 L320.0,342.5 L332.5,347.5 L345.0,353.8" stroke="#e56e5a" stroke-width="0.70" stroke-opacity="0.55"/>
<circle cx="297.5" cy="347.5" r="0.9" fill="#e56e5a" fill-opacity="0.80" stroke="none"/>
<path d="M346.4,354.4 L344.1,351.4 L342.6,354.4 Z" fill="#e56e5a" fill-opacity="0.80" stroke="none"/>
<path d="M273.8,375.0 L287.5,372.5 L302.5,377.5 L320.0,377.5" stroke="#e56e5a" stroke-width="0.70" stroke-opacity="0.55"/>
<circle cx="273.8" cy="375.0" r="0.9" fill="#e56e5a" fill-opacity="0.80" stroke="none"/>
<path d="M321.6,377.5 L318.1,375.8 L318.1,379.2 Z" fill="#e56e5a" fill-opacity="0.80" stroke="none"/>
<path d="M275.0,352.5 L295.0,357.5 L315.0,363.8 L318.0,363.8" stroke="#e56e5a" stroke-width="0.70" stroke-opacity="0.55"/>
<circle cx="275.0" cy="352.5" r="0.9" fill="#e56e5a" fill-opacity="0.80" stroke="none"/>
<path d="M319.6,363.8 L316.1,362.0 L316.1,365.5 Z" fill="#e56e5a" fill-opacity="0.80" stroke="none"/>
<path d="M287.5,338.8 L300.0,345.0 L315.0,347.5 L330.0,355.0 L350.0,360.0 L360.0,372.5 L363.8,377.5 L367.0,372.5 L372.0,378.8 L375.0,385.0 L380.0,392.5 L386.2,397.5" stroke="#e56e5a" stroke-width="0.70" stroke-opacity="0.55"/>
<circle cx="287.5" cy="338.8" r="0.9" fill="#e56e5a" fill-opacity="0.80" stroke="none"/>
<path d="M387.5,398.5 L385.9,395.0 L383.7,397.7 Z" fill="#e56e5a" fill-opacity="0.80" stroke="none"/>
<path d="M375.0,395.0 L380.0,398.0 L385.0,399.5 L390.0,395.0" stroke="#e56e5a" stroke-width="0.70" stroke-opacity="0.55"/>
<circle cx="375.0" cy="395.0" r="0.9" fill="#e56e5a" fill-opacity="0.80" stroke="none"/>
<path d="M391.2,394.0 L387.5,395.0 L389.8,397.5 Z" fill="#e56e5a" fill-opacity="0.80" stroke="none"/>
<path d="M332.5,368.8 L350.0,375.0 L367.5,385.0 L380.0,395.0 L390.0,392.5" stroke="#e56e5a" stroke-width="0.70" stroke-opacity="0.55"/>
<circle cx="332.5" cy="368.8" r="0.9" fill="#e56e5a" fill-opacity="0.80" stroke="none"/>
<path d="M391.5,392.1 L387.8,391.3 L388.6,394.6 Z" fill="#e56e5a" fill-opacity="0.80" stroke="none"/>
<path d="M436.2,438.8 L440.0,441.2 L443.8,437.5 L447.5,442.5 L450.0,440.0" stroke="#e56e5a" stroke-width="0.70" stroke-opacity="0.55"/>
<circle cx="436.2" cy="438.8" r="0.9" fill="#e56e5a" fill-opacity="0.80" stroke="none"/>
<path d="M451.1,438.9 L447.5,440.1 L449.9,442.5 Z" fill="#e56e5a" fill-opacity="0.80" stroke="none"/>
<path d="M250.0,352.5 L275.0,367.5 L290.0,378.8" stroke="#a2559c" stroke-width="0.70" stroke-opacity="0.55"/>
<circle cx="250.0" cy="352.5" r="0.9" fill="#a2559c" fill-opacity="0.80" stroke="none"/>
<path d="M291.2,379.7 L289.5,376.3 L287.5,379.0 Z" fill="#a2559c" fill-opacity="0.80" stroke="none"/>
<path d="M255.0,355.0 L280.0,363.8 L300.0,373.8 L316.2,383.0" stroke="#a2559c" stroke-width="0.70" stroke-opacity="0.55"/>
<circle cx="255.0" cy="355.0" r="0.9" fill="#a2559c" fill-opacity="0.80" stroke="none"/>
<path d="M317.6,383.8 L315.5,380.6 L313.8,383.6 Z" fill="#a2559c" fill-opacity="0.80" stroke="none"/>
<path d="M315.0,382.5 L332.5,392.5 L350.0,398.8 L365.0,402.5" stroke="#a2559c" stroke-width="0.70" stroke-opacity="0.55"/>
<circle cx="315.0" cy="382.5" r="0.9" fill="#a2559c" fill-opacity="0.80" stroke="none"/>
<path d="M366.5,402.9 L363.6,400.4 L362.8,403.7 Z" fill="#a2559c" fill-opacity="0.80" stroke="none"/>
<path d="M357.5,404.5 L370.0,406.2 L386.2,405.0" stroke="#a2559c" stroke-width="0.70" stroke-opacity="0.55"/>
<circle cx="357.5" cy="404.5" r="0.9" fill="#a2559c" fill-opacity="0.80" stroke="none"/>
<path d="M387.8,404.9 L384.3,403.4 L384.5,406.8 Z" fill="#a2559c" fill-opacity="0.80" stroke="none"/>
<path d="M375.0,408.8 L380.0,406.2 L386.2,405.0" stroke="#a2559c" stroke-width="0.70" stroke-opacity="0.55"/>
<circle cx="375.0" cy="408.8" r="0.9" fill="#a2559c" fill-opacity="0.80" stroke="none"/>
<path d="M387.8,404.7 L384.1,403.7 L384.8,407.0 Z" fill="#a2559c" fill-opacity="0.80" stroke="none"/>
<path d="M400.0,320.0 L410.0,322.5 L415.0,325.5" stroke="#a2559c" stroke-width="0.70" stroke-opacity="0.55"/>
<circle cx="400.0" cy="320.0" r="0.9" fill="#a2559c" fill-opacity="0.80" stroke="none"/>
<path d="M416.3,326.3 L414.3,323.1 L412.5,326.0 Z" fill="#a2559c" fill-opacity="0.80" stroke="none"/>
<path d="M325.0,310.0 L335.0,312.5 L350.0,313.0 L367.5,313.8 L385.0,312.0 L400.0,312.5 L417.5,312.0" stroke="#a2559c" stroke-width="0.70" stroke-opacity="0.55"/>
<circle cx="325.0" cy="310.0" r="0.9" fill="#a2559c" fill-opacity="0.80" stroke="none"/>
<path d="M419.0,312.0 L415.6,310.3 L415.7,313.8 Z" fill="#a2559c" fill-opacity="0.80" stroke="none"/>
<path d="M300.0,320.0 L315.0,325.0 L332.5,327.5 L346.2,328.8" stroke="#a2559c" stroke-width="0.70" stroke-opacity="0.55"/>
<circle cx="300.0" cy="320.0" r="0.9" fill="#a2559c" fill-opacity="0.80" stroke="none"/>
<path d="M347.8,328.9 L344.6,326.9 L344.2,330.3 Z" fill="#a2559c" fill-opacity="0.80" stroke="none"/>
<path d="M390.0,367.5 L400.0,372.5 L415.0,380.0 L430.0,385.0 L442.5,385.0" stroke="#a2559c" stroke-width="0.70" stroke-opacity="0.55"/>
<circle cx="390.0" cy="367.5" r="0.9" fill="#a2559c" fill-opacity="0.80" stroke="none"/>
<path d="M444.1,385.0 L440.6,383.3 L440.6,386.7 Z" fill="#a2559c" fill-opacity="0.80" stroke="none"/>
<path d="M346.2,363.8 L355.0,366.2 L365.0,365.5" stroke="#a2559c" stroke-width="0.70" stroke-opacity="0.55"/>
<circle cx="346.2" cy="363.8" r="0.9" fill="#a2559c" fill-opacity="0.80" stroke="none"/>
<path d="M366.5,365.4 L363.0,363.9 L363.3,367.3 Z" fill="#a2559c" fill-opacity="0.80" stroke="none"/>
<path d="M310.0,323.8 L317.5,335.0 L325.0,345.0 L332.5,360.0 L340.0,362.5 L346.2,363.0" stroke="#a2559c" stroke-width="0.70" stroke-opacity="0.55"/>
<circle cx="310.0" cy="323.8" r="0.9" fill="#a2559c" fill-opacity="0.80" stroke="none"/>
<path d="M347.8,363.1 L344.5,361.2 L344.3,364.6 Z" fill="#a2559c" fill-opacity="0.80" stroke="none"/>
<path d="M273.8,317.5 L295.0,325.0 L315.0,332.5 L332.5,340.0 L350.0,345.0 L365.0,347.5" stroke="#00847e" stroke-width="0.70" stroke-opacity="0.55"/>
<circle cx="273.8" cy="317.5" r="0.9" fill="#00847e" fill-opacity="0.80" stroke="none"/>
<path d="M366.5,347.8 L363.4,345.5 L362.9,348.9 Z" fill="#00847e" fill-opacity="0.80" stroke="none"/>
<path d="M297.5,348.8 L315.0,349.5 L332.5,349.0 L348.8,347.5" stroke="#00847e" stroke-width="0.70" stroke-opacity="0.55"/>
<circle cx="297.5" cy="348.8" r="0.9" fill="#00847e" fill-opacity="0.80" stroke="none"/>
<path d="M350.3,347.4 L346.7,346.0 L347.1,349.4 Z" fill="#00847e" fill-opacity="0.80" stroke="none"/>
<path d="M318.8,356.2 L321.2,352.5 L325.0,340.0 L325.0,325.0 L327.5,321.2 L331.2,322.5" stroke="#00847e" stroke-width="0.70" stroke-opacity="0.55"/>
<circle cx="318.8" cy="356.2" r="0.9" fill="#00847e" fill-opacity="0.80" stroke="none"/>
<path d="M332.7,323.0 L330.0,320.3 L328.9,323.5 Z" fill="#00847e" fill-opacity="0.80" stroke="none"/>
<path d="M303.8,317.5 L315.0,327.5 L325.0,335.0 L337.5,342.5 L350.0,347.5" stroke="#00847e" stroke-width="0.70" stroke-opacity="0.55"/>
<circle cx="303.8" cy="317.5" r="0.9" fill="#00847e" fill-opacity="0.80" stroke="none"/>
<path d="M351.4,348.1 L348.9,345.2 L347.6,348.4 Z" fill="#00847e" fill-opacity="0.80" stroke="none"/>
<path d="M275.0,363.8 L300.0,365.5 L325.0,368.8 L350.0,370.0 L370.0,369.5 L382.5,371.2" stroke="#00847e" stroke-width="0.70" stroke-opacity="0.55"/>
<circle cx="275.0" cy="363.8" r="0.9" fill="#00847e" fill-opacity="0.80" stroke="none"/>
<path d="M384.0,371.5 L380.9,369.3 L380.4,372.7 Z" fill="#00847e" fill-opacity="0.80" stroke="none"/>
<path d="M317.5,363.8 L337.5,368.8 L355.0,375.0 L375.0,382.5 L390.0,385.0" stroke="#00847e" stroke-width="0.70" stroke-opacity="0.55"/>
<circle cx="317.5" cy="363.8" r="0.9" fill="#00847e" fill-opacity="0.80" stroke="none"/>
<path d="M391.5,385.3 L388.4,383.0 L387.9,386.4 Z" fill="#00847e" fill-opacity="0.80" stroke="none"/>
<path d="M328.8,390.0 L350.0,392.5 L370.0,396.2 L390.0,398.8 L410.0,401.2" stroke="#00847e" stroke-width="0.70" stroke-opacity="0.55"/>
<circle cx="328.8" cy="390.0" r="0.9" fill="#00847e" fill-opacity="0.80" stroke="none"/>
<path d="M411.5,401.4 L408.4,399.3 L407.9,402.7 Z" fill="#00847e" fill-opacity="0.80" stroke="none"/>
<path d="M355.0,315.0 L370.0,325.0 L385.0,337.5 L397.5,350.0 L402.5,356.2" stroke="#00847e" stroke-width="0.70" stroke-opacity="0.55"/>
<circle cx="355.0" cy="315.0" r="0.9" fill="#00847e" fill-opacity="0.80" stroke="none"/>
<path d="M403.5,357.5 L402.7,353.7 L400.0,355.9 Z" fill="#00847e" fill-opacity="0.80" stroke="none"/>
<path d="M350.0,325.0 L367.5,335.0 L385.0,345.0 L400.0,352.5 L415.0,360.0 L425.0,363.8" stroke="#00847e" stroke-width="0.70" stroke-opacity="0.55"/>
<circle cx="350.0" cy="325.0" r="0.9" fill="#00847e" fill-opacity="0.80" stroke="none"/>
<path d="M426.5,364.3 L423.9,361.5 L422.7,364.7 Z" fill="#00847e" fill-opacity="0.80" stroke="none"/>
<path d="M390.0,335.0 L405.0,335.5 L422.5,335.0" stroke="#00847e" stroke-width="0.70" stroke-opacity="0.55"/>
<circle cx="390.0" cy="335.0" r="0.9" fill="#00847e" fill-opacity="0.80" stroke="none"/>
<path d="M424.0,335.0 L420.6,333.3 L420.7,336.8 Z" fill="#00847e" fill-opacity="0.80" stroke="none"/>
<path d="M395.0,340.0 L410.0,341.0 L422.5,342.0" stroke="#00847e" stroke-width="0.70" stroke-opacity="0.55"/>
<circle cx="395.0" cy="340.0" r="0.9" fill="#00847e" fill-opacity="0.80" stroke="none"/>
<path d="M424.0,342.1 L420.8,340.2 L420.5,343.6 Z" fill="#00847e" fill-opacity="0.80" stroke="none"/>
<path d="M400.0,363.8 L410.0,363.2 L420.0,361.2 L422.5,366.2 L430.0,368.8" stroke="#00847e" stroke-width="0.70" stroke-opacity="0.55"/>
<circle cx="400.0" cy="363.8" r="0.9" fill="#00847e" fill-opacity="0.80" stroke="none"/>
<path d="M431.5,369.2 L428.8,366.5 L427.7,369.8 Z" fill="#00847e" fill-opacity="0.80" stroke="none"/>
<path d="M355.0,367.5 L375.0,372.5 L390.0,377.5 L405.0,385.0 L420.0,392.5 L430.0,400.0 L440.0,407.5" stroke="#00847e" stroke-width="0.70" stroke-opacity="0.55"/>
<circle cx="355.0" cy="367.5" r="0.9" fill="#00847e" fill-opacity="0.80" stroke="none"/>
<path d="M441.2,408.4 L439.5,405.0 L437.5,407.7 Z" fill="#00847e" fill-opacity="0.80" stroke="none"/>
<path d="M345.0,380.0 L365.0,385.0 L385.0,392.5 L405.0,400.0 L425.0,407.5 L445.0,415.0" stroke="#00847e" stroke-width="0.70" stroke-opacity="0.55"/>
<circle cx="345.0" cy="380.0" r="0.9" fill="#00847e" fill-opacity="0.80" stroke="none"/>
<path d="M446.5,415.5 L443.9,412.8 L442.7,415.9 Z" fill="#00847e" fill-opacity="0.80" stroke="none"/>
<path d="M300.0,357.5 L320.0,363.8 L335.0,370.0 L350.0,373.8" stroke="#4c6a9c" stroke-width="0.70" stroke-opacity="0.55"/>
<circle cx="300.0" cy="357.5" r="0.9" fill="#4c6a9c" fill-opacity="0.80" stroke="none"/>
<path d="M351.5,374.1 L348.6,371.6 L347.8,375.0 Z" fill="#4c6a9c" fill-opacity="0.80" stroke="none"/>
<path d="M302.5,318.8 L315.0,330.0 L325.0,342.5 L335.0,355.0 L346.2,363.2" stroke="#4c6a9c" stroke-width="0.70" stroke-opacity="0.55"/>
<circle cx="302.5" cy="318.8" r="0.9" fill="#4c6a9c" fill-opacity="0.80" stroke="none"/>
<path d="M347.5,364.2 L345.8,360.8 L343.7,363.5 Z" fill="#4c6a9c" fill-opacity="0.80" stroke="none"/>
<path d="M335.0,370.0 L355.0,377.5 L375.0,385.0 L395.0,392.5 L410.0,397.5 L425.0,408.8" stroke="#4c6a9c" stroke-width="0.70" stroke-opacity="0.55"/>
<circle cx="335.0" cy="370.0" r="0.9" fill="#4c6a9c" fill-opacity="0.80" stroke="none"/>
<path d="M426.2,409.7 L424.5,406.3 L422.5,409.0 Z" fill="#4c6a9c" fill-opacity="0.80" stroke="none"/>
<path d="M381.2,371.2 L395.0,380.0 L410.0,385.0 L425.0,390.0 L440.0,397.5" stroke="#4c6a9c" stroke-width="0.70" stroke-opacity="0.55"/>
<circle cx="381.2" cy="371.2" r="0.9" fill="#4c6a9c" fill-opacity="0.80" stroke="none"/>
<path d="M441.4,398.2 L439.1,395.1 L437.6,398.2 Z" fill="#4c6a9c" fill-opacity="0.80" stroke="none"/>
<path d="M350.0,357.5 L370.0,367.5 L390.0,375.0 L410.0,382.5 L425.0,385.0" stroke="#4c6a9c" stroke-width="0.70" stroke-opacity="0.55"/>
<circle cx="350.0" cy="357.5" r="0.9" fill="#4c6a9c" fill-opacity="0.80" stroke="none"/>
<path d="M426.5,385.3 L423.4,383.0 L422.9,386.4 Z" fill="#4c6a9c" fill-opacity="0.80" stroke="none"/>
<path d="M405.0,410.0 L412.5,415.0 L415.0,422.5 L418.8,417.5 L425.0,420.0" stroke="#4c6a9c" stroke-width="0.70" stroke-opacity="0.55"/>
<circle cx="405.0" cy="410.0" r="0.9" fill="#4c6a9c" fill-opacity="0.80" stroke="none"/>
<path d="M426.4,420.6 L423.9,417.7 L422.6,420.9 Z" fill="#4c6a9c" fill-opacity="0.80" stroke="none"/>
<path d="M375.0,397.5 L390.0,405.0 L405.0,410.0 L420.0,415.0 L440.0,417.5" stroke="#4c6a9c" stroke-width="0.70" stroke-opacity="0.55"/>
<circle cx="375.0" cy="397.5" r="0.9" fill="#4c6a9c" fill-opacity="0.80" stroke="none"/>
<path d="M441.5,417.7 L438.4,415.6 L437.9,419.0 Z" fill="#4c6a9c" fill-opacity="0.80" stroke="none"/>
<path d="M415.0,325.0 L410.0,326.2 L402.5,325.0" stroke="#4c6a9c" stroke-width="0.70" stroke-opacity="0.55"/>
<circle cx="415.0" cy="325.0" r="0.9" fill="#4c6a9c" fill-opacity="0.80" stroke="none"/>
<path d="M401.0,324.7 L404.1,327.0 L404.6,323.6 Z" fill="#4c6a9c" fill-opacity="0.80" stroke="none"/>
<path d="M395.0,382.5 L405.0,392.5 L415.0,400.0 L425.0,405.0 L432.5,410.0" stroke="#4c6a9c" stroke-width="0.70" stroke-opacity="0.55"/>
<circle cx="395.0" cy="382.5" r="0.9" fill="#4c6a9c" fill-opacity="0.80" stroke="none"/>
<path d="M433.8,410.9 L431.9,407.5 L430.0,410.4 Z" fill="#4c6a9c" fill-opacity="0.80" stroke="none"/>
<path d="M310.0,325.0 L325.0,332.5 L340.0,341.2 L350.0,347.0" stroke="#883039" stroke-width="0.70" stroke-opacity="0.55"/>
<circle cx="310.0" cy="325.0" r="0.9" fill="#883039" fill-opacity="0.80" stroke="none"/>
<path d="M351.3,347.8 L349.2,344.6 L347.5,347.6 Z" fill="#883039" fill-opacity="0.80" stroke="none"/>
<path d="M350.0,347.0 L355.0,355.0 L362.5,360.0 L375.0,367.5 L385.0,375.5" stroke="#883039" stroke-width="0.70" stroke-opacity="0.55"/>
<circle cx="350.0" cy="347.0" r="0.9" fill="#883039" fill-opacity="0.80" stroke="none"/>
<path d="M386.2,376.5 L384.6,373.0 L382.5,375.7 Z" fill="#883039" fill-opacity="0.80" stroke="none"/>
<path d="M393.8,381.2 L400.0,387.5 L410.0,395.0 L420.0,402.5 L430.0,410.0 L440.0,416.2" stroke="#883039" stroke-width="0.70" stroke-opacity="0.55"/>
<circle cx="393.8" cy="381.2" r="0.9" fill="#883039" fill-opacity="0.80" stroke="none"/>
<path d="M441.3,417.1 L439.3,413.8 L437.5,416.7 Z" fill="#883039" fill-opacity="0.80" stroke="none"/>
<path d="M400.0,362.5 L410.0,366.2 L417.5,369.5" stroke="#883039" stroke-width="0.70" stroke-opacity="0.55"/>
<circle cx="400.0" cy="362.5" r="0.9" fill="#883039" fill-opacity="0.80" stroke="none"/>
<path d="M418.9,370.1 L416.5,367.2 L415.1,370.3 Z" fill="#883039" fill-opacity="0.80" stroke="none"/>
<path d="M425.0,417.5 L435.0,418.8 L445.0,418.0 L450.0,419.0" stroke="#883039" stroke-width="0.70" stroke-opacity="0.55"/>
<circle cx="425.0" cy="417.5" r="0.9" fill="#883039" fill-opacity="0.80" stroke="none"/>
<path d="M451.5,419.3 L448.5,417.0 L447.8,420.3 Z" fill="#883039" fill-opacity="0.80" stroke="none"/>
<path d="M436.0,451.6 L470.0,450.4 L496.0,449.0" stroke="#883039" stroke-width="1.30" stroke-opacity="0.50"/>
<circle cx="436.0" cy="451.6" r="0.9" fill="#883039" fill-opacity="0.75" stroke="none"/>
<path d="M497.5,448.9 L494.1,447.4 L494.2,450.8 Z" fill="#883039" fill-opacity="0.75" stroke="none"/>
<path d="M188.8,302.5 L165.0,301.2 L145.0,297.5 L135.0,298.2 L132.5,302.0 L138.8,306.2 L147.0,310.5" stroke="#a2559c" stroke-width="0.70" stroke-opacity="0.55"/>
<circle cx="188.8" cy="302.5" r="0.9" fill="#a2559c" fill-opacity="0.80" stroke="none"/>
<path d="M148.4,311.2 L146.1,308.1 L144.6,311.2 Z" fill="#a2559c" fill-opacity="0.80" stroke="none"/>
<path d="M165.0,301.2 L180.0,303.0 L187.0,305.5 L185.0,308.8 L175.0,307.5" stroke="#a2559c" stroke-width="0.70" stroke-opacity="0.55"/>
<circle cx="165.0" cy="301.2" r="0.9" fill="#a2559c" fill-opacity="0.80" stroke="none"/>
<path d="M173.5,307.3 L176.6,309.4 L177.1,306.0 Z" fill="#a2559c" fill-opacity="0.80" stroke="none"/>
<path d="M205.0,333.0 L190.0,332.5 L172.5,331.2" stroke="#a2559c" stroke-width="0.70" stroke-opacity="0.55"/>
<circle cx="205.0" cy="333.0" r="0.9" fill="#a2559c" fill-opacity="0.80" stroke="none"/>
<path d="M218.8,331.8 L205.0,331.2 L190.0,330.8" stroke="#e56e5a" stroke-width="0.70" stroke-opacity="0.55"/>
<circle cx="218.8" cy="331.8" r="0.9" fill="#e56e5a" fill-opacity="0.80" stroke="none"/>
<path d="M193.8,341.2 L200.0,338.8 L210.0,343.8 L212.5,350.0 L215.2,351.0" stroke="#e56e5a" stroke-width="0.70" stroke-opacity="0.55"/>
<circle cx="193.8" cy="341.2" r="0.9" fill="#e56e5a" fill-opacity="0.80" stroke="none"/>
<path d="M216.7,351.5 L214.1,348.8 L212.9,352.0 Z" fill="#e56e5a" fill-opacity="0.80" stroke="none"/>
<path d="M211.2,358.0 L225.0,358.0 L247.5,358.8 L265.0,360.0" stroke="#00847e" stroke-width="0.70" stroke-opacity="0.55"/>
<circle cx="211.2" cy="358.0" r="0.9" fill="#00847e" fill-opacity="0.80" stroke="none"/>
<path d="M266.5,360.1 L263.3,358.2 L263.0,361.6 Z" fill="#00847e" fill-opacity="0.80" stroke="none"/>
<path d="M212.5,351.2 L217.5,356.2 L227.5,359.2" stroke="#a2559c" stroke-width="0.70" stroke-opacity="0.55"/>
<circle cx="212.5" cy="351.2" r="0.9" fill="#a2559c" fill-opacity="0.80" stroke="none"/>
<path d="M229.0,359.7 L226.2,357.1 L225.2,360.3 Z" fill="#a2559c" fill-opacity="0.80" stroke="none"/>
<path d="M212.5,325.0 L225.0,327.0 L242.5,329.2 L250.0,331.2 L265.0,335.0" stroke="#a2559c" stroke-width="0.70" stroke-opacity="0.55"/>
<circle cx="212.5" cy="325.0" r="0.9" fill="#a2559c" fill-opacity="0.80" stroke="none"/>
<path d="M266.5,335.4 L263.6,332.9 L262.8,336.2 Z" fill="#a2559c" fill-opacity="0.80" stroke="none"/>
<path d="M172.5,332.0 L200.0,335.0 L225.0,336.2 L250.0,337.5 L275.0,343.8" stroke="#a2559c" stroke-width="0.70" stroke-opacity="0.55"/>
<circle cx="172.5" cy="332.0" r="0.9" fill="#a2559c" fill-opacity="0.80" stroke="none"/>
<path d="M276.5,344.1 L273.6,341.6 L272.8,345.0 Z" fill="#a2559c" fill-opacity="0.80" stroke="none"/>
<path d="M191.2,287.5 L193.8,300.0 L195.8,308.0" stroke="#a2559c" stroke-width="0.70" stroke-opacity="0.55"/>
<circle cx="191.2" cy="287.5" r="0.9" fill="#a2559c" fill-opacity="0.80" stroke="none"/>
<path d="M196.1,309.5 L197.0,305.8 L193.6,306.6 Z" fill="#a2559c" fill-opacity="0.80" stroke="none"/>
<path d="M170.0,290.0 L200.0,297.5 L230.0,307.5 L250.0,313.8" stroke="#4c6a9c" stroke-width="0.70" stroke-opacity="0.55"/>
<circle cx="170.0" cy="290.0" r="0.9" fill="#4c6a9c" fill-opacity="0.80" stroke="none"/>
<path d="M251.5,314.2 L248.7,311.6 L247.7,314.8 Z" fill="#4c6a9c" fill-opacity="0.80" stroke="none"/>
<path d="M160.0,233.8 L170.0,237.5 L185.0,243.8 L202.5,251.2 L220.0,257.5 L242.5,262.5" stroke="#00847e" stroke-width="0.70" stroke-opacity="0.55"/>
<circle cx="160.0" cy="233.8" r="0.9" fill="#00847e" fill-opacity="0.80" stroke="none"/>
<path d="M244.0,262.8 L241.1,260.4 L240.3,263.8 Z" fill="#00847e" fill-opacity="0.80" stroke="none"/>
<path d="M207.5,260.0 L215.0,270.0 L213.8,276.2 L227.5,280.0 L245.0,282.5 L264.5,279.8" stroke="#00847e" stroke-width="0.70" stroke-opacity="0.55"/>
<circle cx="207.5" cy="260.0" r="0.9" fill="#00847e" fill-opacity="0.80" stroke="none"/>
<path d="M266.0,279.5 L262.4,278.3 L262.9,281.7 Z" fill="#00847e" fill-opacity="0.80" stroke="none"/>
<path d="M222.5,241.2 L235.0,247.5 L245.0,255.0 L255.0,267.5 L262.5,277.5 L270.0,287.5 L280.0,295.0" stroke="#00847e" stroke-width="0.70" stroke-opacity="0.55"/>
<circle cx="222.5" cy="241.2" r="0.9" fill="#00847e" fill-opacity="0.80" stroke="none"/>
<path d="M281.2,295.9 L279.5,292.5 L277.5,295.2 Z" fill="#00847e" fill-opacity="0.80" stroke="none"/>
<path d="M227.5,235.0 L240.0,240.0 L249.5,241.5" stroke="#00847e" stroke-width="0.70" stroke-opacity="0.55"/>
<circle cx="227.5" cy="235.0" r="0.9" fill="#00847e" fill-opacity="0.80" stroke="none"/>
<path d="M251.0,241.7 L247.9,239.5 L247.4,242.9 Z" fill="#00847e" fill-opacity="0.80" stroke="none"/>
<path d="M175.0,275.0 L182.5,275.0" stroke="#a2559c" stroke-width="0.70" stroke-opacity="0.55"/>
<circle cx="175.0" cy="275.0" r="0.9" fill="#a2559c" fill-opacity="0.80" stroke="none"/>
<path d="M184.1,275.0 L180.6,273.3 L180.6,276.7 Z" fill="#a2559c" fill-opacity="0.80" stroke="none"/>
<path d="M170.0,267.5 L185.0,277.5 L200.0,285.0 L218.8,288.8" stroke="#a2559c" stroke-width="0.70" stroke-opacity="0.55"/>
<circle cx="170.0" cy="267.5" r="0.9" fill="#a2559c" fill-opacity="0.80" stroke="none"/>
<path d="M220.3,289.1 L217.3,286.7 L216.6,290.1 Z" fill="#a2559c" fill-opacity="0.80" stroke="none"/>
<path d="M170.0,287.5 L195.0,297.5 L220.0,305.0 L245.0,312.5 L270.0,316.2" stroke="#a2559c" stroke-width="0.70" stroke-opacity="0.55"/>
<circle cx="170.0" cy="287.5" r="0.9" fill="#a2559c" fill-opacity="0.80" stroke="none"/>
<path d="M271.5,316.5 L268.4,314.3 L267.9,317.7 Z" fill="#a2559c" fill-opacity="0.80" stroke="none"/>
<path d="M216.2,300.0 L235.0,307.5 L252.5,310.0 L270.0,310.5" stroke="#00847e" stroke-width="0.70" stroke-opacity="0.55"/>
<circle cx="216.2" cy="300.0" r="0.9" fill="#00847e" fill-opacity="0.80" stroke="none"/>
<path d="M271.5,310.5 L268.2,308.7 L268.1,312.2 Z" fill="#00847e" fill-opacity="0.80" stroke="none"/>
<path d="M273.8,318.0 L290.0,322.5 L310.0,325.0 L325.0,326.2" stroke="#00847e" stroke-width="1.30" stroke-opacity="0.50"/>
<circle cx="273.8" cy="318.0" r="0.9" fill="#00847e" fill-opacity="0.75" stroke="none"/>
<path d="M326.5,326.4 L323.3,324.4 L323.0,327.8 Z" fill="#00847e" fill-opacity="0.75" stroke="none"/>
<path d="M292.5,295.0 L300.0,293.8 L298.8,305.0 L302.5,317.5 L300.0,330.0 L310.0,340.0 L320.0,353.8" stroke="#00847e" stroke-width="0.70" stroke-opacity="0.55"/>
<circle cx="292.5" cy="295.0" r="0.9" fill="#00847e" fill-opacity="0.80" stroke="none"/>
<path d="M320.9,355.0 L320.3,351.2 L317.5,353.2 Z" fill="#00847e" fill-opacity="0.80" stroke="none"/>
<path d="M245.0,262.5 L237.5,272.5 L242.5,285.0 L250.0,295.0 L265.0,302.5 L282.5,305.0" stroke="#00847e" stroke-width="0.70" stroke-opacity="0.55"/>
<circle cx="245.0" cy="262.5" r="0.9" fill="#00847e" fill-opacity="0.80" stroke="none"/>
<path d="M284.0,305.2 L280.9,303.0 L280.4,306.4 Z" fill="#00847e" fill-opacity="0.80" stroke="none"/>
<path d="M212.5,324.5 L232.5,326.2 L255.0,328.8 L270.0,332.5" stroke="#a2559c" stroke-width="0.70" stroke-opacity="0.55"/>
<circle cx="212.5" cy="324.5" r="0.9" fill="#a2559c" fill-opacity="0.80" stroke="none"/>
<path d="M271.5,332.9 L268.6,330.4 L267.8,333.7 Z" fill="#a2559c" fill-opacity="0.80" stroke="none"/>
<path d="M170.0,331.2 L195.0,332.5 L220.0,333.8 L245.0,335.0 L249.5,338.0" stroke="#a2559c" stroke-width="0.70" stroke-opacity="0.55"/>
<circle cx="170.0" cy="331.2" r="0.9" fill="#a2559c" fill-opacity="0.80" stroke="none"/>
<path d="M250.8,338.9 L248.9,335.5 L247.0,338.4 Z" fill="#a2559c" fill-opacity="0.80" stroke="none"/>
<path d="M285.0,301.2 L280.0,312.5 L287.5,317.5 L300.0,321.2" stroke="#a2559c" stroke-width="0.70" stroke-opacity="0.55"/>
<circle cx="285.0" cy="301.2" r="0.9" fill="#a2559c" fill-opacity="0.80" stroke="none"/>
<path d="M301.5,321.7 L298.7,319.1 L297.7,322.3 Z" fill="#a2559c" fill-opacity="0.80" stroke="none"/>
<path d="M220.0,275.0 L235.0,282.5 L255.0,290.0 L275.0,297.5 L295.0,305.0" stroke="#4c6a9c" stroke-width="0.70" stroke-opacity="0.55"/>
<circle cx="220.0" cy="275.0" r="0.9" fill="#4c6a9c" fill-opacity="0.80" stroke="none"/>
<path d="M296.5,305.5 L293.9,302.8 L292.7,305.9 Z" fill="#4c6a9c" fill-opacity="0.80" stroke="none"/>
<path d="M305.0,306.2 L320.0,306.8 L335.0,307.0" stroke="#00847e" stroke-width="1.50" stroke-opacity="0.40"/>
<circle cx="305.0" cy="306.2" r="0.9" fill="#00847e" fill-opacity="0.65" stroke="none"/>
<path d="M336.5,307.0 L333.2,305.3 L333.1,308.7 Z" fill="#00847e" fill-opacity="0.65" stroke="none"/>
<path d="M297.5,346.2 L320.0,347.0 L350.0,347.5" stroke="#00847e" stroke-width="1.50" stroke-opacity="0.40"/>
<circle cx="297.5" cy="346.2" r="0.9" fill="#00847e" fill-opacity="0.65" stroke="none"/>
<path d="M351.5,347.5 L348.2,345.8 L348.1,349.2 Z" fill="#00847e" fill-opacity="0.65" stroke="none"/>
<path d="M265.0,337.5 L282.5,338.0 L300.0,337.5" stroke="#00847e" stroke-width="1.50" stroke-opacity="0.40"/>
<circle cx="265.0" cy="337.5" r="0.9" fill="#00847e" fill-opacity="0.65" stroke="none"/>
<path d="M301.5,337.5 L298.1,335.8 L298.2,339.3 Z" fill="#00847e" fill-opacity="0.65" stroke="none"/>
<path d="M226.2,301.2 L240.0,305.0 L243.0,308.0" stroke="#a2559c" stroke-width="0.70" stroke-opacity="0.55"/>
<circle cx="226.2" cy="301.2" r="0.9" fill="#a2559c" fill-opacity="0.80" stroke="none"/>
<path d="M244.1,309.1 L242.9,305.5 L240.5,307.9 Z" fill="#a2559c" fill-opacity="0.80" stroke="none"/>
<path d="M233.8,268.8 L242.5,280.0 L240.0,287.5 L245.0,295.0 L255.0,302.5" stroke="#a2559c" stroke-width="0.70" stroke-opacity="0.55"/>
<circle cx="233.8" cy="268.8" r="0.9" fill="#a2559c" fill-opacity="0.80" stroke="none"/>
<path d="M256.2,303.4 L254.5,300.0 L252.5,302.7 Z" fill="#a2559c" fill-opacity="0.80" stroke="none"/>
<path d="M325.0,321.2 L326.2,335.0 L330.0,340.0 L325.0,345.0 L335.0,350.0 L345.0,360.0" stroke="#00847e" stroke-width="0.70" stroke-opacity="0.55"/>
<circle cx="325.0" cy="321.2" r="0.9" fill="#00847e" fill-opacity="0.80" stroke="none"/>
<path d="M346.1,361.1 L344.9,357.5 L342.5,359.9 Z" fill="#00847e" fill-opacity="0.80" stroke="none"/>
<path d="M215.0,295.0 L235.0,300.0 L255.0,302.5 L270.0,305.0 L290.0,310.0 L310.0,317.5" stroke="#00847e" stroke-width="0.70" stroke-opacity="0.55"/>
<circle cx="215.0" cy="295.0" r="0.9" fill="#00847e" fill-opacity="0.80" stroke="none"/>
<path d="M311.5,318.0 L308.9,315.3 L307.7,318.4 Z" fill="#00847e" fill-opacity="0.80" stroke="none"/>
<path d="M227.5,267.5 L245.0,271.2 L262.5,273.8 L280.0,278.8 L295.0,283.8" stroke="#00847e" stroke-width="0.70" stroke-opacity="0.55"/>
<circle cx="227.5" cy="267.5" r="0.9" fill="#00847e" fill-opacity="0.80" stroke="none"/>
<path d="M296.5,284.2 L293.8,281.5 L292.7,284.8 Z" fill="#00847e" fill-opacity="0.80" stroke="none"/>
<path d="M200.0,255.0 L210.0,261.2 L225.0,265.0 L242.5,267.5 L252.5,267.0" stroke="#a2559c" stroke-width="0.70" stroke-opacity="0.55"/>
<circle cx="200.0" cy="255.0" r="0.9" fill="#a2559c" fill-opacity="0.80" stroke="none"/>
<path d="M254.0,266.9 L250.6,265.4 L250.7,268.8 Z" fill="#a2559c" fill-opacity="0.80" stroke="none"/>
<path d="M185.0,245.0 L195.0,252.5 L205.0,255.0 L220.0,256.2" stroke="#a2559c" stroke-width="0.70" stroke-opacity="0.55"/>
<circle cx="185.0" cy="245.0" r="0.9" fill="#a2559c" fill-opacity="0.80" stroke="none"/>
<path d="M221.5,256.4 L218.3,254.4 L218.0,257.8 Z" fill="#a2559c" fill-opacity="0.80" stroke="none"/>
<path d="M170.0,255.0 L185.0,262.5 L202.5,271.2 L220.0,278.8 L235.0,287.5 L252.5,293.8" stroke="#00847e" stroke-width="0.70" stroke-opacity="0.55"/>
<circle cx="170.0" cy="255.0" r="0.9" fill="#00847e" fill-opacity="0.80" stroke="none"/>
<path d="M254.0,294.3 L251.3,291.5 L250.2,294.7 Z" fill="#00847e" fill-opacity="0.80" stroke="none"/>
<path d="M185.0,287.5 L205.0,292.5 L225.0,298.8 L245.0,302.5 L267.5,309.5" stroke="#00847e" stroke-width="0.70" stroke-opacity="0.55"/>
<circle cx="185.0" cy="287.5" r="0.9" fill="#00847e" fill-opacity="0.80" stroke="none"/>
<path d="M269.0,310.0 L266.2,307.3 L265.2,310.6 Z" fill="#00847e" fill-opacity="0.80" stroke="none"/>
<path d="M227.5,280.0 L242.5,283.8 L260.0,287.5 L275.0,291.2 L287.5,301.2" stroke="#a2559c" stroke-width="0.70" stroke-opacity="0.55"/>
<circle cx="227.5" cy="280.0" r="0.9" fill="#a2559c" fill-opacity="0.80" stroke="none"/>
<path d="M288.7,302.2 L287.1,298.8 L285.0,301.4 Z" fill="#a2559c" fill-opacity="0.80" stroke="none"/>
<path d="M242.5,315.0 L252.5,317.5 L270.0,318.0 L290.0,320.0 L310.0,322.5" stroke="#a2559c" stroke-width="0.70" stroke-opacity="0.55"/>
<circle cx="242.5" cy="315.0" r="0.9" fill="#a2559c" fill-opacity="0.80" stroke="none"/>
<path d="M311.5,322.7 L308.4,320.6 L307.9,324.0 Z" fill="#a2559c" fill-opacity="0.80" stroke="none"/>
<path d="M212.5,302.5 L222.5,310.0 L235.0,312.5 L240.0,316.2" stroke="#a2559c" stroke-width="0.70" stroke-opacity="0.55"/>
<circle cx="212.5" cy="302.5" r="0.9" fill="#a2559c" fill-opacity="0.80" stroke="none"/>
<path d="M241.2,317.2 L239.5,313.8 L237.5,316.5 Z" fill="#a2559c" fill-opacity="0.80" stroke="none"/>
<path d="M252.5,350.0 L267.5,353.0" stroke="#a2559c" stroke-width="0.70" stroke-opacity="0.55"/>
<circle cx="252.5" cy="350.0" r="0.9" fill="#a2559c" fill-opacity="0.80" stroke="none"/>
<path d="M269.0,353.3 L266.0,351.0 L265.3,354.3 Z" fill="#a2559c" fill-opacity="0.80" stroke="none"/>
<path d="M300.0,357.5 L315.0,360.0 L335.0,366.2 L355.0,373.8" stroke="#4c6a9c" stroke-width="0.70" stroke-opacity="0.55"/>
<circle cx="300.0" cy="357.5" r="0.9" fill="#4c6a9c" fill-opacity="0.80" stroke="none"/>
<path d="M356.5,374.3 L353.9,371.5 L352.7,374.7 Z" fill="#4c6a9c" fill-opacity="0.80" stroke="none"/>
<path d="M310.0,287.5 L320.0,292.5 L330.0,295.5 L335.0,297.0" stroke="#00847e" stroke-width="1.20" stroke-opacity="0.70"/>
<circle cx="310.0" cy="287.5" r="0.9" fill="#00847e" fill-opacity="0.95" stroke="none"/>
<path d="M336.5,297.4 L333.7,294.8 L332.7,298.1 Z" fill="#00847e" fill-opacity="0.95" stroke="none"/>
<path d="M330.0,286.2 L335.0,288.0 L340.0,292.5 L345.0,295.5" stroke="#00847e" stroke-width="0.70" stroke-opacity="0.55"/>
<circle cx="330.0" cy="286.2" r="0.9" fill="#00847e" fill-opacity="0.80" stroke="none"/>
<path d="M346.3,296.3 L344.3,293.1 L342.5,296.0 Z" fill="#00847e" fill-opacity="0.80" stroke="none"/>
<path d="M317.5,317.5 L330.0,322.5 L345.0,328.0 L360.0,332.5" stroke="#00847e" stroke-width="0.70" stroke-opacity="0.55"/>
<circle cx="317.5" cy="317.5" r="0.9" fill="#00847e" fill-opacity="0.80" stroke="none"/>
<path d="M361.5,332.9 L358.7,330.3 L357.7,333.6 Z" fill="#00847e" fill-opacity="0.80" stroke="none"/>
<path d="M310.0,315.0 L325.0,322.5 L342.5,328.8" stroke="#a2559c" stroke-width="0.70" stroke-opacity="0.55"/>
<circle cx="310.0" cy="315.0" r="0.9" fill="#a2559c" fill-opacity="0.80" stroke="none"/>
<path d="M344.0,329.3 L341.3,326.5 L340.2,329.7 Z" fill="#a2559c" fill-opacity="0.80" stroke="none"/>
<path d="M308.8,325.0 L320.0,328.8 L335.0,335.0 L350.0,342.5" stroke="#883039" stroke-width="0.70" stroke-opacity="0.55"/>
<circle cx="308.8" cy="325.0" r="0.9" fill="#883039" fill-opacity="0.80" stroke="none"/>
<path d="M351.4,343.2 L349.1,340.1 L347.6,343.2 Z" fill="#883039" fill-opacity="0.80" stroke="none"/>
<path d="M325.0,323.8 L325.5,330.0 L327.0,337.5 L330.0,347.5" stroke="#883039" stroke-width="0.70" stroke-opacity="0.55"/>
<circle cx="325.0" cy="323.8" r="0.9" fill="#883039" fill-opacity="0.80" stroke="none"/>
<path d="M330.4,349.0 L331.1,345.2 L327.8,346.2 Z" fill="#883039" fill-opacity="0.80" stroke="none"/>
<path d="M286.2,338.8 L300.0,340.0 L305.0,336.2 L310.0,342.5 L320.0,341.2 L330.0,347.5 L345.0,350.0" stroke="#e56e5a" stroke-width="0.70" stroke-opacity="0.55"/>
<circle cx="286.2" cy="338.8" r="0.9" fill="#e56e5a" fill-opacity="0.80" stroke="none"/>
<path d="M346.5,350.3 L343.4,348.0 L342.9,351.4 Z" fill="#e56e5a" fill-opacity="0.80" stroke="none"/>
<path d="M275.0,365.0 L290.0,366.2 L310.0,370.0 L330.0,373.8 L350.0,377.5" stroke="#e56e5a" stroke-width="0.70" stroke-opacity="0.55"/>
<circle cx="275.0" cy="365.0" r="0.9" fill="#e56e5a" fill-opacity="0.80" stroke="none"/>
<path d="M351.5,377.8 L348.5,375.5 L347.9,378.8 Z" fill="#e56e5a" fill-opacity="0.80" stroke="none"/>
<path d="M290.0,378.8 L305.0,376.2 L320.0,373.8" stroke="#a2559c" stroke-width="0.70" stroke-opacity="0.55"/>
<circle cx="290.0" cy="378.8" r="0.9" fill="#a2559c" fill-opacity="0.80" stroke="none"/>
<path d="M321.5,373.5 L317.9,372.4 L318.4,375.7 Z" fill="#a2559c" fill-opacity="0.80" stroke="none"/>
<path d="M183.0,185.0 L184.5,189.5 L190.5,194.0 L193.5,200.0 L195.0,204.5 L199.5,210.5 L202.5,213.5" stroke="#a2559c" stroke-width="0.70" stroke-opacity="0.55"/>
<circle cx="183.0" cy="185.0" r="0.9" fill="#a2559c" fill-opacity="0.80" stroke="none"/>
<path d="M203.6,214.6 L202.4,211.0 L200.0,213.4 Z" fill="#a2559c" fill-opacity="0.80" stroke="none"/>
<path d="M178.5,189.5 L180.0,194.0 L187.5,198.5 L193.5,202.2 L198.0,209.0 L203.2,218.0 L213.0,228.5" stroke="#a2559c" stroke-width="0.70" stroke-opacity="0.55"/>
<circle cx="178.5" cy="189.5" r="0.9" fill="#a2559c" fill-opacity="0.80" stroke="none"/>
<path d="M214.1,229.6 L213.0,226.0 L210.5,228.3 Z" fill="#a2559c" fill-opacity="0.80" stroke="none"/>
<path d="M165.0,200.0 L177.0,203.7 L189.0,209.0 L199.5,215.0 L204.0,218.0" stroke="#a2559c" stroke-width="0.70" stroke-opacity="0.55"/>
<path d="M195.0,201.5 L190.5,209.0 L183.0,212.0 L173.2,216.5" stroke="#a2559c" stroke-width="0.70" stroke-opacity="0.55"/>
<circle cx="195.0" cy="201.5" r="0.9" fill="#a2559c" fill-opacity="0.80" stroke="none"/>
<path d="M171.8,217.1 L175.7,217.3 L174.2,214.2 Z" fill="#a2559c" fill-opacity="0.80" stroke="none"/>
<path d="M193.5,203.0 L186.0,207.5 L177.0,213.5 L165.0,221.0 L159.7,222.5" stroke="#a2559c" stroke-width="0.70" stroke-opacity="0.55"/>
<circle cx="193.5" cy="203.0" r="0.9" fill="#a2559c" fill-opacity="0.80" stroke="none"/>
<path d="M158.3,222.9 L162.0,223.6 L161.1,220.3 Z" fill="#a2559c" fill-opacity="0.80" stroke="none"/>
<path d="M151.5,208.2 L157.5,209.7 L165.0,210.5" stroke="#a2559c" stroke-width="0.70" stroke-opacity="0.55"/>
<circle cx="151.5" cy="208.2" r="0.9" fill="#a2559c" fill-opacity="0.80" stroke="none"/>
<path d="M166.5,210.7 L163.3,208.6 L163.0,212.0 Z" fill="#a2559c" fill-opacity="0.80" stroke="none"/>
<path d="M144.0,218.7 L150.0,221.0 L165.0,226.2 L175.0,229.8" stroke="#a2559c" stroke-width="0.70" stroke-opacity="0.55"/>
<circle cx="144.0" cy="218.7" r="0.9" fill="#a2559c" fill-opacity="0.80" stroke="none"/>
<path d="M176.5,230.4 L173.9,227.6 L172.7,230.8 Z" fill="#a2559c" fill-opacity="0.80" stroke="none"/>
<path d="M154.5,225.8 L158.2,225.2" stroke="#a2559c" stroke-width="1.60" stroke-opacity="0.40"/>
<circle cx="154.5" cy="225.8" r="0.9" fill="#a2559c" fill-opacity="0.65" stroke="none"/>
<path d="M159.8,225.0 L156.1,223.8 L156.7,227.2 Z" fill="#a2559c" fill-opacity="0.65" stroke="none"/>
<path d="M180.7,223.2 L190.5,221.0 L195.0,215.0" stroke="#a2559c" stroke-width="0.70" stroke-opacity="0.55"/>
<circle cx="180.7" cy="223.2" r="0.9" fill="#a2559c" fill-opacity="0.80" stroke="none"/>
<path d="M195.9,213.8 L192.5,215.5 L195.2,217.5 Z" fill="#a2559c" fill-opacity="0.80" stroke="none"/>
<path d="M153.0,234.5 L165.0,236.7 L180.0,239.7 L195.0,245.0 L210.0,246.8" stroke="#a2559c" stroke-width="0.70" stroke-opacity="0.55"/>
<circle cx="153.0" cy="234.5" r="0.9" fill="#a2559c" fill-opacity="0.80" stroke="none"/>
<path d="M211.5,247.0 L208.4,244.9 L207.9,248.3 Z" fill="#a2559c" fill-opacity="0.80" stroke="none"/>
<path d="M199.0,204.8 L205.5,210.5 L213.0,215.0 L216.0,222.5 L225.0,229.2 L234.0,236.0 L246.0,240.5 L249.3,241.7" stroke="#00847e" stroke-width="0.70" stroke-opacity="0.55"/>
<circle cx="199.0" cy="204.8" r="0.9" fill="#00847e" fill-opacity="0.80" stroke="none"/>
<path d="M250.8,242.2 L248.1,239.5 L247.0,242.7 Z" fill="#00847e" fill-opacity="0.80" stroke="none"/>
<path d="M204.0,218.0 L213.0,225.5 L222.0,233.0 L223.5,240.5 L228.0,248.0 L234.0,257.0 L240.0,266.0" stroke="#00847e" stroke-width="0.70" stroke-opacity="0.55"/>
<circle cx="204.0" cy="218.0" r="0.9" fill="#00847e" fill-opacity="0.80" stroke="none"/>
<path d="M240.9,267.3 L240.4,263.5 L237.5,265.4 Z" fill="#00847e" fill-opacity="0.80" stroke="none"/>
<path d="M167.2,243.8 L175.5,248.0 L183.0,254.0 L187.5,258.5 L195.0,259.5" stroke="#00847e" stroke-width="0.70" stroke-opacity="0.55"/>
<circle cx="167.2" cy="243.8" r="0.9" fill="#00847e" fill-opacity="0.80" stroke="none"/>
<path d="M196.5,259.8 L193.4,257.6 L192.9,261.0 Z" fill="#00847e" fill-opacity="0.80" stroke="none"/>
<path d="M228.0,237.5 L237.0,239.0 L246.0,240.3" stroke="#a2559c" stroke-width="0.70" stroke-opacity="0.55"/>
<circle cx="228.0" cy="237.5" r="0.9" fill="#a2559c" fill-opacity="0.80" stroke="none"/>
<path d="M247.5,240.6 L244.4,238.4 L243.9,241.8 Z" fill="#a2559c" fill-opacity="0.80" stroke="none"/>
<path d="M231.7,247.7 L222.0,248.0" stroke="#a2559c" stroke-width="0.70" stroke-opacity="0.55"/>
<circle cx="231.7" cy="247.7" r="0.9" fill="#a2559c" fill-opacity="0.80" stroke="none"/>
<path d="M220.4,248.0 L223.9,249.6 L223.8,246.2 Z" fill="#a2559c" fill-opacity="0.80" stroke="none"/>
<path d="M185.2,242.0 L190.5,248.0 L193.5,254.0 L195.7,257.7" stroke="#a2559c" stroke-width="0.70" stroke-opacity="0.55"/>
<circle cx="185.2" cy="242.0" r="0.9" fill="#a2559c" fill-opacity="0.80" stroke="none"/>
<path d="M196.5,259.1 L196.3,255.3 L193.3,257.0 Z" fill="#a2559c" fill-opacity="0.80" stroke="none"/>
<path d="M192.0,242.0 L192.7,248.0 L194.2,254.0 L195.7,257.7" stroke="#a2559c" stroke-width="0.70" stroke-opacity="0.55"/>
<circle cx="192.0" cy="242.0" r="0.9" fill="#a2559c" fill-opacity="0.80" stroke="none"/>
<path d="M196.3,259.2 L196.6,255.4 L193.5,256.7 Z" fill="#a2559c" fill-opacity="0.80" stroke="none"/>
<path d="M172.5,245.0 L183.0,248.0 L190.5,251.7 L195.0,254.0" stroke="#a2559c" stroke-width="0.70" stroke-opacity="0.55"/>
<circle cx="172.5" cy="245.0" r="0.9" fill="#a2559c" fill-opacity="0.80" stroke="none"/>
<path d="M196.4,254.7 L194.1,251.6 L192.6,254.7 Z" fill="#a2559c" fill-opacity="0.80" stroke="none"/>
<path d="M177.0,251.0 L186.0,253.2 L193.5,255.5" stroke="#a2559c" stroke-width="0.70" stroke-opacity="0.55"/>
<circle cx="177.0" cy="251.0" r="0.9" fill="#a2559c" fill-opacity="0.80" stroke="none"/>
<path d="M195.0,255.9 L192.2,253.3 L191.2,256.6 Z" fill="#a2559c" fill-opacity="0.80" stroke="none"/>
<path d="M222.0,240.5 L234.0,245.0 L246.0,251.0 L258.0,255.5 L270.0,258.5 L282.0,263.0" stroke="#00847e" stroke-width="0.70" stroke-opacity="0.55"/>
<circle cx="222.0" cy="240.5" r="0.9" fill="#00847e" fill-opacity="0.80" stroke="none"/>
<path d="M283.4,263.5 L280.9,260.7 L279.7,263.9 Z" fill="#00847e" fill-opacity="0.80" stroke="none"/>
<path d="M240.0,251.0 L246.0,255.5 L249.0,260.0 L255.0,266.0" stroke="#a2559c" stroke-width="0.70" stroke-opacity="0.55"/>
<circle cx="240.0" cy="251.0" r="0.9" fill="#a2559c" fill-opacity="0.80" stroke="none"/>
<path d="M256.1,267.1 L254.9,263.5 L252.5,265.9 Z" fill="#a2559c" fill-opacity="0.80" stroke="none"/>
<path d="M150.0,233.0 L162.0,237.5 L174.0,240.5 L184.5,245.0" stroke="#a2559c" stroke-width="0.70" stroke-opacity="0.55"/>
<circle cx="150.0" cy="233.0" r="0.9" fill="#a2559c" fill-opacity="0.80" stroke="none"/>
<path d="M185.9,245.6 L183.5,242.7 L182.1,245.8 Z" fill="#a2559c" fill-opacity="0.80" stroke="none"/>
<path d="M418.3,311.6 L407.7,310.5 L393.0,308.3" stroke="#00847e" stroke-width="1.20" stroke-opacity="0.40"/>
<circle cx="418.3" cy="311.6" r="0.9" fill="#00847e" fill-opacity="0.65" stroke="none"/>
<path d="M418.3,307.4 L419.6,310.2 L423.3,317.5 L429.7,326.7 L437.0,332.2 L446.2,334.9 L455.4,337.3" stroke="#00847e" stroke-width="0.70" stroke-opacity="0.55"/>
<circle cx="418.3" cy="307.4" r="0.9" fill="#00847e" fill-opacity="0.80" stroke="none"/>
<path d="M456.9,337.7 L454.0,335.2 L453.1,338.5 Z" fill="#00847e" fill-opacity="0.80" stroke="none"/>
<path d="M401.3,319.7 L415.0,323.0 L429.7,327.6 L440.7,330.7" stroke="#a2559c" stroke-width="0.70" stroke-opacity="0.55"/>
<circle cx="401.3" cy="319.7" r="0.9" fill="#a2559c" fill-opacity="0.80" stroke="none"/>
<path d="M442.2,331.1 L439.4,328.6 L438.4,331.8 Z" fill="#a2559c" fill-opacity="0.80" stroke="none"/>
<path d="M429.7,331.3 L437.0,333.1 L448.0,338.0 L457.2,341.3" stroke="#a2559c" stroke-width="0.70" stroke-opacity="0.55"/>
<circle cx="429.7" cy="331.3" r="0.9" fill="#a2559c" fill-opacity="0.80" stroke="none"/>
<path d="M458.7,341.9 L456.0,339.1 L454.9,342.3 Z" fill="#a2559c" fill-opacity="0.80" stroke="none"/>
<path d="M397.6,323.0 L405.8,322.1 L413.2,325.2" stroke="#4c6a9c" stroke-width="0.70" stroke-opacity="0.55"/>
<circle cx="397.6" cy="323.0" r="0.9" fill="#4c6a9c" fill-opacity="0.80" stroke="none"/>
<path d="M414.6,325.8 L412.1,322.9 L410.8,326.1 Z" fill="#4c6a9c" fill-opacity="0.80" stroke="none"/>
<path d="M429.7,355.1 L446.2,359.7 L463.6,364.3" stroke="#00847e" stroke-width="0.70" stroke-opacity="0.55"/>
<circle cx="429.7" cy="355.1" r="0.9" fill="#00847e" fill-opacity="0.80" stroke="none"/>
<path d="M465.1,364.7 L462.2,362.1 L461.4,365.4 Z" fill="#00847e" fill-opacity="0.80" stroke="none"/>
<path d="M392.1,334.0 L405.8,334.6 L423.3,334.4" stroke="#00847e" stroke-width="1.20" stroke-opacity="0.40"/>
<circle cx="392.1" cy="334.0" r="0.9" fill="#00847e" fill-opacity="0.65" stroke="none"/>
<path d="M424.8,334.4 L421.4,332.7 L421.4,336.1 Z" fill="#00847e" fill-opacity="0.65" stroke="none"/>
<path d="M393.9,339.1 L407.7,339.5 L420.5,339.1" stroke="#00847e" stroke-width="1.20" stroke-opacity="0.40"/>
<circle cx="393.9" cy="339.1" r="0.9" fill="#00847e" fill-opacity="0.65" stroke="none"/>
<path d="M422.1,339.1 L418.6,337.5 L418.7,340.9 Z" fill="#00847e" fill-opacity="0.65" stroke="none"/>
<path d="M332.1,361.7 L339.3,366.3 L346.4,370.4 L353.6,374.3 L360.7,378.9 L367.9,382.8" stroke="#a2559c" stroke-width="0.70" stroke-opacity="0.47"/>
<circle cx="332.1" cy="361.7" r="0.9" fill="#a2559c" fill-opacity="0.72" stroke="none"/>
<path d="M369.3,383.5 L367.1,380.4 L365.5,383.4 Z" fill="#a2559c" fill-opacity="0.72" stroke="none"/>
<path d="M347.8,328.6 L354.0,330.4 L360.1,335.0 L366.3,340.5 L372.5,345.4 L378.7,345.0 L384.8,351.8 L391.0,354.1 L397.2,361.9 L403.3,361.3 L409.5,363.9 L415.7,368.1 L421.8,381.2 L428.0,378.1 L434.2,380.4 L440.3,383.9 L446.5,389.2" stroke="#38aaba" stroke-width="0.70" stroke-opacity="0.47"/>
<circle cx="347.8" cy="328.6" r="0.9" fill="#38aaba" fill-opacity="0.72" stroke="none"/>
<path d="M447.7,390.2 L446.2,386.7 L444.0,389.3 Z" fill="#38aaba" fill-opacity="0.72" stroke="none"/>
<path d="M329.8,357.1 L336.2,355.3 L342.5,354.8 L348.9,354.1 L355.3,355.8 L361.6,358.3 L368.0,357.4 L374.4,357.7 L380.7,357.8 L387.1,357.8 L393.5,358.3 L399.8,357.8 L406.2,357.2" stroke="#e56e5a" stroke-width="0.70" stroke-opacity="0.47"/>
<circle cx="329.8" cy="357.1" r="0.9" fill="#e56e5a" fill-opacity="0.72" stroke="none"/>
<path d="M407.7,357.0 L404.2,355.7 L404.5,359.1 Z" fill="#e56e5a" fill-opacity="0.72" stroke="none"/>
<path d="M351.6,392.2 L357.8,395.2 L364.0,396.2 L370.2,398.8 L376.4,399.2 L382.6,401.0 L388.8,402.1 L395.0,405.4 L401.2,406.3 L407.4,410.0 L413.7,412.6 L419.9,413.8 L426.1,415.3 L432.3,417.7 L438.5,418.9 L444.7,421.8 L450.9,421.9 L457.1,424.0 L463.3,426.4 L469.5,429.0 L475.7,429.2" stroke="#a2559c" stroke-width="0.70" stroke-opacity="0.47"/>
<circle cx="351.6" cy="392.2" r="0.9" fill="#a2559c" fill-opacity="0.72" stroke="none"/>
<path d="M477.2,429.3 L473.9,427.5 L473.8,430.9 Z" fill="#a2559c" fill-opacity="0.72" stroke="none"/>
<path d="M260.8,304.3 L267.2,306.6 L273.6,312.6 L280.0,314.6 L286.3,318.2 L292.7,322.5 L299.1,327.1 L305.5,329.1 L311.9,334.0" stroke="#a2559c" stroke-width="0.70" stroke-opacity="0.47"/>
<circle cx="260.8" cy="304.3" r="0.9" fill="#a2559c" fill-opacity="0.72" stroke="none"/>
<path d="M313.2,334.9 L311.5,331.5 L309.4,334.2 Z" fill="#a2559c" fill-opacity="0.72" stroke="none"/>
<path d="M454.6,432.0 L461.1,431.8 L467.5,434.9 L473.9,425.0 L480.3,435.3 L486.7,431.3 L493.1,435.0 L499.6,434.8 L506.0,438.0 L512.4,428.9 L518.8,434.6 L525.2,430.3 L531.7,428.1 L538.1,432.5 L544.5,434.8" stroke="#e56e5a" stroke-width="0.70" stroke-opacity="0.47"/>
<circle cx="454.6" cy="432.0" r="0.9" fill="#e56e5a" fill-opacity="0.72" stroke="none"/>
<path d="M545.9,435.3 L543.3,432.5 L542.2,435.7 Z" fill="#e56e5a" fill-opacity="0.72" stroke="none"/>
<path d="M450.9,416.3 L457.0,416.6 L463.1,416.3 L469.2,416.5 L475.3,419.6 L481.4,417.8 L487.5,418.6 L493.6,417.7 L499.7,418.4 L505.8,419.3 L511.9,418.4 L518.0,418.8 L524.1,420.1 L530.2,419.3 L536.3,419.9" stroke="#4c6a9c" stroke-width="0.70" stroke-opacity="0.47"/>
<circle cx="450.9" cy="416.3" r="0.9" fill="#4c6a9c" fill-opacity="0.72" stroke="none"/>
<path d="M537.9,420.1 L534.7,418.0 L534.3,421.4 Z" fill="#4c6a9c" fill-opacity="0.72" stroke="none"/>
<path d="M352.7,366.9 L358.7,369.8 L364.8,372.7 L370.8,371.3 L376.9,376.9 L382.9,378.2 L389.0,380.5 L395.0,381.0 L401.1,379.4 L407.1,385.9 L413.1,384.6 L419.2,384.4 L425.2,389.8" stroke="#883039" stroke-width="0.70" stroke-opacity="0.47"/>
<circle cx="352.7" cy="366.9" r="0.9" fill="#883039" fill-opacity="0.72" stroke="none"/>
<path d="M426.4,390.8 L425.0,387.3 L422.7,389.8 Z" fill="#883039" fill-opacity="0.72" stroke="none"/>
<path d="M364.8,385.6 L371.0,387.2 L377.3,388.5 L383.5,390.2 L389.8,391.1 L396.0,390.6 L402.3,394.1 L408.6,394.6 L414.8,396.5 L421.1,397.2 L427.3,397.0 L433.6,400.5 L439.8,401.5 L446.1,403.9 L452.4,404.4 L458.6,407.4 L464.9,407.5" stroke="#38aaba" stroke-width="0.70" stroke-opacity="0.47"/>
<circle cx="364.8" cy="385.6" r="0.9" fill="#38aaba" fill-opacity="0.72" stroke="none"/>
<path d="M466.4,407.5 L463.0,405.8 L463.0,409.2 Z" fill="#38aaba" fill-opacity="0.72" stroke="none"/>
<path d="M219.8,299.7 L225.9,302.2 L231.9,301.8 L238.0,308.1 L244.1,304.4 L250.2,311.1 L256.3,307.1 L262.4,315.3 L268.5,313.7 L274.6,318.3 L280.7,313.1 L286.8,319.0 L292.8,316.5 L298.9,318.7 L305.0,322.6 L311.1,325.8 L317.2,327.6 L323.3,327.9 L329.4,329.4 L335.5,328.7 L341.6,335.1 L347.7,333.4 L353.8,337.1 L359.8,339.8 L365.9,337.5 L372.0,334.1 L378.1,341.7 L384.2,339.2 L390.3,344.3 L396.4,341.7 L402.5,346.3 L408.6,348.2" stroke="#a2559c" stroke-width="0.70" stroke-opacity="0.47"/>
<circle cx="219.8" cy="299.7" r="0.9" fill="#a2559c" fill-opacity="0.72" stroke="none"/>
<path d="M410.1,348.6 L407.3,346.0 L406.3,349.3 Z" fill="#a2559c" fill-opacity="0.72" stroke="none"/>
<path d="M421.2,402.2 L427.4,405.8 L433.7,400.0 L440.0,405.2 L446.2,407.7 L452.5,405.4 L458.7,407.6 L465.0,406.3 L471.3,408.3 L477.5,410.3 L483.8,411.3 L490.1,410.5 L496.3,412.8 L502.6,414.0 L508.8,415.7 L515.1,417.6 L521.4,416.7 L527.6,417.3" stroke="#4c6a9c" stroke-width="0.70" stroke-opacity="0.47"/>
<circle cx="421.2" cy="402.2" r="0.9" fill="#4c6a9c" fill-opacity="0.72" stroke="none"/>
<path d="M529.2,417.5 L525.9,415.4 L525.6,418.8 Z" fill="#4c6a9c" fill-opacity="0.72" stroke="none"/>
<path d="M434.3,429.9 L440.4,432.3 L446.5,429.5 L452.6,432.8 L458.7,433.0 L464.9,435.6 L471.0,433.4 L477.1,437.8 L483.2,436.1 L489.3,438.9 L495.4,439.2" stroke="#e56e5a" stroke-width="1.50" stroke-opacity="0.40"/>
<circle cx="434.3" cy="429.9" r="0.9" fill="#e56e5a" fill-opacity="0.65" stroke="none"/>
<path d="M497.0,439.3 L493.7,437.4 L493.5,440.8 Z" fill="#e56e5a" fill-opacity="0.65" stroke="none"/>
<path d="M463.7,427.8 L470.0,427.8 L476.3,428.8 L482.6,428.0 L488.9,427.3 L495.2,428.6 L501.5,428.2 L507.8,427.0 L514.1,426.5 L520.4,427.0" stroke="#00847e" stroke-width="0.70" stroke-opacity="0.47"/>
<circle cx="463.7" cy="427.8" r="0.9" fill="#00847e" fill-opacity="0.72" stroke="none"/>
<path d="M521.9,427.1 L518.6,425.2 L518.4,428.6 Z" fill="#00847e" fill-opacity="0.72" stroke="none"/>
<path d="M257.0,295.6 L263.3,295.5 L269.7,301.6 L276.1,305.0 L282.5,309.4 L288.9,312.9 L295.3,324.1 L301.7,322.5 L308.1,327.8 L314.5,323.7 L320.8,334.5 L327.2,342.0 L333.6,341.5 L340.0,345.4 L346.4,347.3" stroke="#a2559c" stroke-width="0.70" stroke-opacity="0.47"/>
<circle cx="257.0" cy="295.6" r="0.9" fill="#a2559c" fill-opacity="0.72" stroke="none"/>
<path d="M347.9,347.8 L345.1,345.2 L344.1,348.4 Z" fill="#a2559c" fill-opacity="0.72" stroke="none"/>
<path d="M371.5,389.5 L377.5,392.1 L383.6,396.9 L389.7,398.8 L395.7,400.9 L401.8,407.7 L407.9,410.7 L413.9,409.7 L420.0,413.4" stroke="#883039" stroke-width="0.70" stroke-opacity="0.47"/>
<circle cx="371.5" cy="389.5" r="0.9" fill="#883039" fill-opacity="0.72" stroke="none"/>
<path d="M421.3,414.2 L419.3,411.0 L417.5,413.9 Z" fill="#883039" fill-opacity="0.72" stroke="none"/>
<path d="M390.2,386.2 L396.4,389.2 L402.6,390.3 L408.8,391.8 L415.0,393.5 L421.3,393.8 L427.5,395.5 L433.7,400.7 L439.9,399.9 L446.1,403.7 L452.3,407.9 L458.6,409.0 L464.8,409.2 L471.0,411.6 L477.2,412.6 L483.4,416.8 L489.7,416.9 L495.9,419.8 L502.1,422.1 L508.3,423.1" stroke="#a2559c" stroke-width="0.70" stroke-opacity="0.47"/>
<circle cx="390.2" cy="386.2" r="0.9" fill="#a2559c" fill-opacity="0.72" stroke="none"/>
<path d="M509.8,423.4 L506.8,421.2 L506.2,424.5 Z" fill="#a2559c" fill-opacity="0.72" stroke="none"/>
<path d="M281.6,294.1 L287.7,296.4 L293.9,298.9 L300.0,302.5 L306.2,306.0 L312.3,310.9 L318.5,308.9 L324.6,312.7 L330.8,316.3 L336.9,319.0 L343.1,319.9 L349.2,323.8 L355.4,327.2 L361.5,327.1 L367.7,331.8 L373.8,332.8 L380.0,337.1 L386.1,338.0 L392.3,343.0 L398.4,345.2 L404.6,346.8 L410.7,349.8" stroke="#a2559c" stroke-width="0.70" stroke-opacity="0.47"/>
<circle cx="281.6" cy="294.1" r="0.9" fill="#a2559c" fill-opacity="0.72" stroke="none"/>
<path d="M412.1,350.5 L409.8,347.5 L408.3,350.5 Z" fill="#a2559c" fill-opacity="0.72" stroke="none"/>
<path d="M381.2,400.0 L387.3,398.5 L393.4,404.0 L399.4,405.8 L405.5,405.7 L411.6,409.7 L417.7,410.0 L423.7,414.5 L429.8,414.0" stroke="#00847e" stroke-width="0.70" stroke-opacity="0.47"/>
<circle cx="381.2" cy="400.0" r="0.9" fill="#00847e" fill-opacity="0.72" stroke="none"/>
<path d="M431.4,413.9 L427.8,412.5 L428.1,415.9 Z" fill="#00847e" fill-opacity="0.72" stroke="none"/>
<path d="M364.2,359.3 L370.5,362.9 L376.7,366.2 L383.0,371.4 L389.3,373.6 L395.6,376.2 L401.9,380.3 L408.2,384.0 L414.4,389.7 L420.7,389.1 L427.0,393.4 L433.3,398.8 L439.6,401.3 L445.9,403.7 L452.2,407.3 L458.4,411.0 L464.7,414.5 L471.0,417.9" stroke="#00847e" stroke-width="1.50" stroke-opacity="0.40"/>
<circle cx="364.2" cy="359.3" r="0.9" fill="#00847e" fill-opacity="0.65" stroke="none"/>
<path d="M472.4,418.6 L470.2,415.5 L468.6,418.5 Z" fill="#00847e" fill-opacity="0.65" stroke="none"/>
<path d="M248.4,341.1 L254.7,344.3 L261.0,341.6 L267.3,340.2 L273.6,342.0 L279.9,337.4 L286.1,345.2 L292.4,341.2 L298.7,342.6 L305.0,339.9 L311.3,340.7 L317.6,341.7 L323.9,339.6 L330.2,342.5 L336.5,340.7 L342.8,340.7 L349.1,340.1" stroke="#a2559c" stroke-width="0.70" stroke-opacity="0.47"/>
<circle cx="248.4" cy="341.1" r="0.9" fill="#a2559c" fill-opacity="0.72" stroke="none"/>
<path d="M350.6,339.9 L347.1,338.6 L347.4,342.0 Z" fill="#a2559c" fill-opacity="0.72" stroke="none"/>
<path d="M316.1,373.5 L322.4,374.6 L328.7,380.8 L335.1,375.7 L341.4,377.1 L347.8,377.1 L354.1,386.0 L360.5,376.5 L366.8,375.9 L373.2,380.2" stroke="#e56e5a" stroke-width="1.00" stroke-opacity="0.50"/>
<circle cx="316.1" cy="373.5" r="0.9" fill="#e56e5a" fill-opacity="0.75" stroke="none"/>
<path d="M374.5,381.0 L372.6,377.7 L370.7,380.6 Z" fill="#e56e5a" fill-opacity="0.75" stroke="none"/>
<path d="M451.5,429.7 L457.5,430.8 L463.6,430.5 L469.6,431.7 L475.6,429.9 L481.7,434.8 L487.7,432.2 L493.8,433.5 L499.8,433.0 L505.9,432.6 L511.9,432.9 L518.0,433.4 L524.0,434.8 L530.1,435.6" stroke="#e56e5a" stroke-width="0.70" stroke-opacity="0.47"/>
<circle cx="451.5" cy="429.7" r="0.9" fill="#e56e5a" fill-opacity="0.72" stroke="none"/>
<path d="M531.6,435.8 L528.4,433.6 L528.0,437.0 Z" fill="#e56e5a" fill-opacity="0.72" stroke="none"/>
<path d="M384.8,399.1 L391.4,401.4 L397.9,405.1 L404.5,406.8 L411.1,407.2 L417.6,409.7 L424.2,414.5 L430.8,416.3" stroke="#a2559c" stroke-width="1.50" stroke-opacity="0.40"/>
<circle cx="384.8" cy="399.1" r="0.9" fill="#a2559c" fill-opacity="0.65" stroke="none"/>
<path d="M432.2,416.7 L429.4,414.2 L428.5,417.5 Z" fill="#a2559c" fill-opacity="0.65" stroke="none"/>
<path d="M325.1,330.7 L331.4,332.3 L337.8,335.8 L344.1,338.3 L350.5,341.2 L356.8,346.1 L363.1,347.7 L369.5,350.0 L375.8,353.8 L382.2,354.3 L388.5,358.2 L394.9,359.9 L401.2,363.1 L407.6,365.9 L413.9,367.9 L420.2,371.0 L426.6,372.9 L432.9,376.3" stroke="#a2559c" stroke-width="0.70" stroke-opacity="0.47"/>
<circle cx="325.1" cy="330.7" r="0.9" fill="#a2559c" fill-opacity="0.72" stroke="none"/>
<path d="M434.3,377.0 L432.1,373.9 L430.5,376.9 Z" fill="#a2559c" fill-opacity="0.72" stroke="none"/>
<path d="M329.5,344.3 L335.8,348.1 L342.1,351.9 L348.5,349.7 L354.8,356.0 L361.1,355.3 L367.5,356.6 L373.8,359.8 L380.1,362.5 L386.5,364.7 L392.8,368.6" stroke="#00847e" stroke-width="0.70" stroke-opacity="0.47"/>
<circle cx="329.5" cy="344.3" r="0.9" fill="#00847e" fill-opacity="0.72" stroke="none"/>
<path d="M394.1,369.4 L392.1,366.2 L390.3,369.0 Z" fill="#00847e" fill-opacity="0.72" stroke="none"/>
<path d="M374.3,353.8 L380.6,355.8 L386.9,359.8 L393.1,367.0 L399.4,364.9 L405.7,372.3 L412.0,373.1 L418.3,377.8 L424.6,380.5 L430.9,382.7 L437.2,388.2 L443.5,391.6" stroke="#883039" stroke-width="0.70" stroke-opacity="0.47"/>
<circle cx="374.3" cy="353.8" r="0.9" fill="#883039" fill-opacity="0.72" stroke="none"/>
<path d="M444.9,392.3 L442.7,389.2 L441.1,392.2 Z" fill="#883039" fill-opacity="0.72" stroke="none"/>
<path d="M383.7,351.2 L389.8,349.4 L395.9,359.0 L402.0,364.2 L408.0,362.8 L414.1,366.5 L420.2,361.8 L426.3,370.2 L432.4,375.1 L438.4,379.0 L444.5,380.2 L450.6,382.5 L456.7,381.5 L462.7,383.9 L468.8,389.0 L474.9,394.1 L481.0,392.5 L487.0,394.6 L493.1,394.9 L499.2,392.7 L505.3,404.6 L511.3,410.7 L517.4,404.0 L523.5,413.7 L529.6,413.7 L535.6,419.7 L541.7,421.5" stroke="#e56e5a" stroke-width="0.70" stroke-opacity="0.47"/>
<circle cx="383.7" cy="351.2" r="0.9" fill="#e56e5a" fill-opacity="0.72" stroke="none"/>
<path d="M543.2,422.0 L540.4,419.3 L539.4,422.6 Z" fill="#e56e5a" fill-opacity="0.72" stroke="none"/>
<path d="M303.0,339.7 L309.2,340.7 L315.4,342.5 L321.7,343.7 L327.9,345.3 L334.1,344.7 L340.4,348.1 L346.6,349.2 L352.8,349.4 L359.0,348.8 L365.3,350.4 L371.5,353.7 L377.7,354.2 L384.0,354.2 L390.2,354.9 L396.4,355.4 L402.6,358.2 L408.9,359.9 L415.1,360.3 L421.3,361.3 L427.6,363.1" stroke="#a2559c" stroke-width="1.00" stroke-opacity="0.50"/>
<circle cx="303.0" cy="339.7" r="0.9" fill="#a2559c" fill-opacity="0.75" stroke="none"/>
<path d="M429.0,363.5 L426.2,360.9 L425.3,364.2 Z" fill="#a2559c" fill-opacity="0.75" stroke="none"/>
<path d="M308.2,301.4 L314.3,303.9 L320.3,307.7 L326.4,308.1 L332.4,307.4 L338.4,309.6" stroke="#00847e" stroke-width="0.70" stroke-opacity="0.47"/>
<circle cx="308.2" cy="301.4" r="0.9" fill="#00847e" fill-opacity="0.72" stroke="none"/>
<path d="M339.9,310.1 L337.3,307.4 L336.1,310.6 Z" fill="#00847e" fill-opacity="0.72" stroke="none"/>
<path d="M478.1,421.9 L484.3,422.4 L490.4,424.8 L496.5,422.9 L502.7,424.4 L508.8,425.3 L514.9,424.8 L521.1,425.9 L527.2,426.9 L533.3,426.5 L539.4,426.4 L545.6,429.0 L551.7,428.3 L557.8,428.3" stroke="#4c6a9c" stroke-width="1.50" stroke-opacity="0.40"/>
<circle cx="478.1" cy="421.9" r="0.9" fill="#4c6a9c" fill-opacity="0.65" stroke="none"/>
<path d="M559.4,428.3 L556.0,426.6 L556.0,430.0 Z" fill="#4c6a9c" fill-opacity="0.65" stroke="none"/>
<path d="M467.0,432.5 L473.5,431.6 L479.9,429.5 L486.3,432.1 L492.8,433.9 L499.2,435.1 L505.6,439.0 L512.1,436.9 L518.5,436.9 L524.9,437.5 L531.4,438.2" stroke="#00847e" stroke-width="0.70" stroke-opacity="0.47"/>
<circle cx="467.0" cy="432.5" r="0.9" fill="#00847e" fill-opacity="0.72" stroke="none"/>
<path d="M532.9,438.4 L529.7,436.3 L529.3,439.7 Z" fill="#00847e" fill-opacity="0.72" stroke="none"/>
<path d="M311.4,350.6 L317.5,350.0 L323.6,353.8 L329.7,354.8 L335.8,357.4 L341.9,357.9 L348.0,361.3 L354.1,361.4 L360.2,364.0 L366.3,366.0 L372.4,365.8 L378.5,367.4 L384.6,369.7 L390.7,371.2 L396.8,373.4" stroke="#4c6a9c" stroke-width="0.70" stroke-opacity="0.47"/>
<circle cx="311.4" cy="350.6" r="0.9" fill="#4c6a9c" fill-opacity="0.72" stroke="none"/>
<path d="M398.3,373.9 L395.7,371.2 L394.5,374.4 Z" fill="#4c6a9c" fill-opacity="0.72" stroke="none"/>
<path d="M251.4,344.6 L257.4,347.8 L263.4,350.1 L269.5,356.1 L275.5,358.5 L281.5,360.1 L287.5,363.6 L293.5,366.2 L299.6,368.4 L305.6,367.7 L311.6,373.7 L317.6,378.6 L323.6,379.6 L329.7,383.5 L335.7,386.2 L341.7,389.3 L347.7,393.7 L353.8,396.5 L359.8,398.5 L365.8,400.6 L371.8,403.8 L377.8,406.9" stroke="#4c6a9c" stroke-width="0.70" stroke-opacity="0.47"/>
<circle cx="251.4" cy="344.6" r="0.9" fill="#4c6a9c" fill-opacity="0.72" stroke="none"/>
<path d="M379.2,407.6 L377.0,404.6 L375.4,407.6 Z" fill="#4c6a9c" fill-opacity="0.72" stroke="none"/>
<path d="M337.3,342.7 L343.5,345.7 L349.7,346.9 L355.9,347.3 L362.1,349.9 L368.3,352.6 L374.6,352.9 L380.8,357.2 L387.0,357.5 L393.2,358.4 L399.4,363.2 L405.6,362.1 L411.8,364.6 L418.0,366.5 L424.2,369.9 L430.4,369.9 L436.6,371.8 L442.8,374.6" stroke="#883039" stroke-width="0.70" stroke-opacity="0.47"/>
<circle cx="337.3" cy="342.7" r="0.9" fill="#883039" fill-opacity="0.72" stroke="none"/>
<path d="M444.2,375.3 L441.9,372.3 L440.4,375.4 Z" fill="#883039" fill-opacity="0.72" stroke="none"/>
<path d="M387.8,386.2 L394.1,389.1 L400.4,391.2 L406.7,392.8 L413.0,395.9 L419.3,395.5 L425.6,397.2 L431.9,400.0 L438.2,403.7 L444.5,403.9 L450.8,406.9 L457.1,409.9 L463.4,412.5 L469.7,413.6 L476.0,414.0 L482.3,416.8 L488.6,419.4" stroke="#00847e" stroke-width="0.70" stroke-opacity="0.47"/>
<circle cx="387.8" cy="386.2" r="0.9" fill="#00847e" fill-opacity="0.72" stroke="none"/>
<path d="M490.0,420.0 L487.5,417.1 L486.2,420.3 Z" fill="#00847e" fill-opacity="0.72" stroke="none"/>
<path d="M431.3,413.6 L437.7,414.2 L444.2,414.1 L450.6,414.2 L457.0,415.6 L463.4,416.1 L469.9,416.5 L476.3,416.5 L482.7,416.9 L489.1,418.9 L495.6,419.4 L502.0,419.3 L508.4,419.4 L514.8,421.2 L521.2,421.2" stroke="#a2559c" stroke-width="0.70" stroke-opacity="0.47"/>
<circle cx="431.3" cy="413.6" r="0.9" fill="#a2559c" fill-opacity="0.72" stroke="none"/>
<path d="M522.8,421.2 L519.4,419.5 L519.4,422.9 Z" fill="#a2559c" fill-opacity="0.72" stroke="none"/>
<path d="M288.7,365.9 L294.9,365.3 L301.2,366.9 L307.4,367.8 L313.6,367.3 L319.9,370.9 L326.1,370.5 L332.3,370.8 L338.6,371.6 L344.8,371.8 L351.1,372.0 L357.3,373.6 L363.5,371.3 L369.8,375.5 L376.0,374.7 L382.3,376.9 L388.5,374.6 L394.7,376.8 L401.0,377.5 L407.2,377.6 L413.4,377.7 L419.7,379.9 L425.9,382.6 L432.2,380.1 L438.4,384.2 L444.6,383.0" stroke="#e56e5a" stroke-width="0.70" stroke-opacity="0.47"/>
<circle cx="288.7" cy="365.9" r="0.9" fill="#e56e5a" fill-opacity="0.72" stroke="none"/>
<path d="M446.2,382.7 L442.5,381.7 L443.1,385.0 Z" fill="#e56e5a" fill-opacity="0.72" stroke="none"/>
<path d="M353.8,321.0 L360.1,324.1 L366.4,326.7 L372.6,332.5 L378.9,335.1 L385.2,339.7 L391.4,344.3 L397.7,351.2 L404.0,350.8 L410.2,356.0 L416.5,359.6 L422.8,361.6 L429.0,366.0 L435.3,370.6 L441.6,373.7" stroke="#00847e" stroke-width="0.70" stroke-opacity="0.47"/>
<circle cx="353.8" cy="321.0" r="0.9" fill="#00847e" fill-opacity="0.72" stroke="none"/>
<path d="M442.9,374.4 L440.7,371.4 L439.1,374.4 Z" fill="#00847e" fill-opacity="0.72" stroke="none"/>
<path d="M410.5,415.4 L416.6,417.3 L422.7,416.6 L428.9,417.4 L435.0,417.4 L441.1,418.1 L447.2,417.0 L453.4,419.2 L459.5,418.3 L465.6,420.2 L471.8,419.8 L477.9,421.4 L484.0,421.5 L490.1,421.9 L496.3,422.0 L502.4,421.8 L508.5,422.6 L514.6,424.0 L520.8,425.1 L526.9,424.5 L533.0,425.2 L539.1,427.2 L545.3,427.2 L551.4,428.5 L557.5,428.5 L563.7,428.1 L569.8,428.6 L575.9,429.8" stroke="#883039" stroke-width="0.70" stroke-opacity="0.47"/>
<circle cx="410.5" cy="415.4" r="0.9" fill="#883039" fill-opacity="0.72" stroke="none"/>
<path d="M577.4,430.1 L574.4,427.8 L573.8,431.1 Z" fill="#883039" fill-opacity="0.72" stroke="none"/>
<path d="M406.8,391.3 L412.9,392.5 L419.1,393.3 L425.2,395.4 L431.4,398.1 L437.5,400.5 L443.7,399.9 L449.8,398.1 L456.0,400.7 L462.1,403.4" stroke="#e56e5a" stroke-width="0.70" stroke-opacity="0.47"/>
<circle cx="406.8" cy="391.3" r="0.9" fill="#e56e5a" fill-opacity="0.72" stroke="none"/>
<path d="M463.6,404.0 L461.1,401.1 L459.7,404.2 Z" fill="#e56e5a" fill-opacity="0.72" stroke="none"/>
<path d="M304.2,337.8 L310.4,338.3 L316.6,340.2 L322.8,341.1 L329.1,342.7 L335.3,344.8 L341.5,345.6 L347.7,346.7 L354.0,350.2 L360.2,350.4 L366.4,350.0 L372.6,352.4 L378.9,355.4 L385.1,354.0 L391.3,357.1 L397.5,358.4 L403.8,359.1 L410.0,359.9 L416.2,361.8 L422.4,362.5 L428.7,363.9" stroke="#00847e" stroke-width="1.50" stroke-opacity="0.40"/>
<circle cx="304.2" cy="337.8" r="0.9" fill="#00847e" fill-opacity="0.65" stroke="none"/>
<path d="M430.2,364.3 L427.3,361.9 L426.5,365.2 Z" fill="#00847e" fill-opacity="0.65" stroke="none"/>
<path d="M424.8,417.9 L431.0,418.2 L437.1,417.9 L443.3,421.1 L449.4,420.4 L455.5,420.5 L461.7,420.7 L467.8,422.2 L474.0,421.7 L480.1,423.9 L486.2,424.0 L492.4,424.3 L498.5,424.2 L504.7,425.0 L510.8,425.4 L516.9,427.3 L523.1,425.2 L529.2,427.8 L535.4,428.4 L541.5,429.3 L547.6,429.0 L553.8,430.5 L559.9,430.1 L566.1,432.1 L572.2,431.5 L578.3,433.8 L584.5,432.4 L590.6,433.8 L596.8,434.4" stroke="#00847e" stroke-width="0.70" stroke-opacity="0.47"/>
<circle cx="424.8" cy="417.9" r="0.9" fill="#00847e" fill-opacity="0.72" stroke="none"/>
<path d="M598.3,434.6 L595.1,432.6 L594.7,436.0 Z" fill="#00847e" fill-opacity="0.72" stroke="none"/>
<path d="M462.7,425.9 L469.2,427.3 L475.7,426.4 L482.1,425.6 L488.6,426.7 L495.1,428.3 L501.6,427.1 L508.1,427.9 L514.6,427.2" stroke="#e56e5a" stroke-width="0.70" stroke-opacity="0.47"/>
<circle cx="462.7" cy="425.9" r="0.9" fill="#e56e5a" fill-opacity="0.72" stroke="none"/>
<path d="M516.1,427.0 L512.6,425.7 L512.9,429.1 Z" fill="#e56e5a" fill-opacity="0.72" stroke="none"/>
<path d="M261.6,333.7 L267.6,333.7 L273.7,333.8 L279.8,332.4 L285.9,332.6 L291.9,335.3 L298.0,333.3 L304.1,331.4 L310.2,332.1" stroke="#883039" stroke-width="0.70" stroke-opacity="0.47"/>
<circle cx="261.6" cy="333.7" r="0.9" fill="#883039" fill-opacity="0.72" stroke="none"/>
<path d="M311.7,332.3 L308.6,330.2 L308.1,333.6 Z" fill="#883039" fill-opacity="0.72" stroke="none"/>
<path d="M336.8,316.4 L343.4,317.2 L349.9,321.7 L356.4,321.6 L363.0,324.1 L369.5,326.2" stroke="#00847e" stroke-width="1.00" stroke-opacity="0.50"/>
<circle cx="336.8" cy="316.4" r="0.9" fill="#00847e" fill-opacity="0.75" stroke="none"/>
<path d="M371.0,326.6 L368.3,324.0 L367.2,327.2 Z" fill="#00847e" fill-opacity="0.75" stroke="none"/>
<path d="M259.8,317.3 L266.0,317.5 L272.2,317.3 L278.5,318.3 L284.7,316.9 L290.9,316.6 L297.1,319.7 L303.4,316.7 L309.6,317.2 L315.8,318.0 L322.1,317.4 L328.3,317.0 L334.5,315.8 L340.7,315.3 L347.0,317.2 L353.2,315.3 L359.4,317.1" stroke="#a2559c" stroke-width="0.70" stroke-opacity="0.47"/>
<circle cx="259.8" cy="317.3" r="0.9" fill="#a2559c" fill-opacity="0.72" stroke="none"/>
<path d="M360.9,317.6 L358.1,315.0 L357.1,318.2 Z" fill="#a2559c" fill-opacity="0.72" stroke="none"/>
<path d="M332.1,328.5 L338.3,336.9 L344.4,336.1 L350.6,338.9 L356.7,337.8 L362.9,347.2 L369.0,347.1 L375.2,345.9 L381.3,350.5 L387.4,353.3 L393.6,357.2 L399.7,360.9 L405.9,361.2 L412.0,363.9 L418.2,371.7 L424.3,372.8 L430.5,373.1 L436.6,374.8 L442.8,384.6 L448.9,386.4 L455.1,386.9 L461.2,388.1" stroke="#a2559c" stroke-width="0.70" stroke-opacity="0.47"/>
<circle cx="332.1" cy="328.5" r="0.9" fill="#a2559c" fill-opacity="0.72" stroke="none"/>
<path d="M462.7,388.4 L459.7,386.1 L459.0,389.4 Z" fill="#a2559c" fill-opacity="0.72" stroke="none"/>
<path d="M323.3,330.7 L329.9,333.9 L336.4,331.4 L343.0,334.0 L349.6,330.0 L356.2,333.5 L362.7,329.1 L369.3,324.2 L375.9,330.5 L382.4,328.3" stroke="#a2559c" stroke-width="1.00" stroke-opacity="0.50"/>
<circle cx="323.3" cy="330.7" r="0.9" fill="#a2559c" fill-opacity="0.75" stroke="none"/>
<path d="M383.9,327.8 L380.1,327.2 L381.2,330.5 Z" fill="#a2559c" fill-opacity="0.75" stroke="none"/>
<path d="M294.7,347.2 L300.9,347.0 L307.0,344.2 L313.2,357.3 L319.3,355.6 L325.5,360.1 L331.7,358.7 L337.8,359.6 L344.0,357.3 L350.1,353.2 L356.3,363.6 L362.4,365.8 L368.6,362.9 L374.8,366.6 L380.9,368.0 L387.1,368.0 L393.2,370.8 L399.4,374.4 L405.6,371.9 L411.7,375.6" stroke="#e56e5a" stroke-width="0.70" stroke-opacity="0.47"/>
<circle cx="294.7" cy="347.2" r="0.9" fill="#e56e5a" fill-opacity="0.72" stroke="none"/>
<path d="M413.0,376.5 L411.0,373.2 L409.2,376.1 Z" fill="#e56e5a" fill-opacity="0.72" stroke="none"/>
<path d="M249.0,350.2 L255.3,351.0 L261.6,351.8 L267.9,352.1 L274.3,351.6 L280.6,354.9 L286.9,352.4 L293.2,352.1 L299.6,351.7 L305.9,354.1 L312.2,353.7 L318.5,353.7" stroke="#00847e" stroke-width="0.70" stroke-opacity="0.47"/>
<circle cx="249.0" cy="350.2" r="0.9" fill="#00847e" fill-opacity="0.72" stroke="none"/>
<path d="M320.1,353.7 L316.7,352.0 L316.7,355.4 Z" fill="#00847e" fill-opacity="0.72" stroke="none"/>
<path d="M275.3,294.8 L281.8,296.6 L288.2,297.0 L294.6,297.3 L301.1,299.1 L307.5,300.3 L314.0,302.8 L320.4,304.8 L326.9,304.1 L333.3,305.7 L339.8,306.8 L346.2,308.7 L352.7,309.4" stroke="#00847e" stroke-width="0.70" stroke-opacity="0.47"/>
<circle cx="275.3" cy="294.8" r="0.9" fill="#00847e" fill-opacity="0.72" stroke="none"/>
<path d="M354.2,309.6 L351.0,307.5 L350.6,310.9 Z" fill="#00847e" fill-opacity="0.72" stroke="none"/>
<path d="M341.1,327.4 L347.5,330.4 L354.0,335.5 L360.4,336.5 L366.9,343.9 L373.4,345.9 L379.8,349.5 L386.3,353.9 L392.8,357.9 L399.2,361.9 L405.7,366.2" stroke="#00847e" stroke-width="0.70" stroke-opacity="0.47"/>
<circle cx="341.1" cy="327.4" r="0.9" fill="#00847e" fill-opacity="0.72" stroke="none"/>
<path d="M407.0,367.1 L405.1,363.7 L403.2,366.6 Z" fill="#00847e" fill-opacity="0.72" stroke="none"/>
<path d="M404.9,402.6 L411.2,404.5 L417.4,405.5 L423.7,406.4 L430.0,407.6 L436.2,407.2 L442.5,408.8 L448.8,411.1 L455.0,411.1 L461.3,412.4 L467.5,414.9 L473.8,415.2 L480.1,416.7 L486.3,417.5 L492.6,420.6 L498.9,419.7 L505.1,421.5 L511.4,422.8" stroke="#00847e" stroke-width="0.70" stroke-opacity="0.47"/>
<circle cx="404.9" cy="402.6" r="0.9" fill="#00847e" fill-opacity="0.72" stroke="none"/>
<path d="M512.9,423.1 L509.9,420.7 L509.2,424.1 Z" fill="#00847e" fill-opacity="0.72" stroke="none"/>
<path d="M287.9,356.7 L294.1,357.1 L300.2,356.7 L306.3,357.2 L312.5,356.1 L318.6,355.8 L324.7,359.7 L330.9,356.8 L337.0,362.0 L343.1,364.9 L349.3,366.5 L355.4,360.9 L361.5,362.2 L367.7,361.1 L373.8,366.8 L379.9,363.9 L386.0,368.1 L392.2,366.3 L398.3,369.7 L404.4,366.5 L410.6,372.2 L416.7,368.1 L422.8,370.5 L429.0,370.6" stroke="#a2559c" stroke-width="0.70" stroke-opacity="0.47"/>
<circle cx="287.9" cy="356.7" r="0.9" fill="#a2559c" fill-opacity="0.72" stroke="none"/>
<path d="M430.5,370.6 L427.1,368.9 L427.1,372.3 Z" fill="#a2559c" fill-opacity="0.72" stroke="none"/>
<path d="M388.3,416.2 L394.5,417.1 L400.8,416.4 L407.0,416.2 L413.2,415.0 L419.4,414.7 L425.6,415.7 L431.8,415.1 L438.0,415.3 L444.2,415.6" stroke="#00847e" stroke-width="0.70" stroke-opacity="0.47"/>
<circle cx="388.3" cy="416.2" r="0.9" fill="#00847e" fill-opacity="0.72" stroke="none"/>
<path d="M445.8,415.7 L442.5,413.8 L442.3,417.2 Z" fill="#00847e" fill-opacity="0.72" stroke="none"/>
<path d="M266.3,311.1 L272.6,310.5 L278.8,311.7 L285.0,309.8 L291.3,312.7 L297.5,311.8 L303.8,311.5 L310.0,312.0 L316.3,310.1 L322.5,309.8 L328.7,310.8 L335.0,310.3 L341.2,309.7" stroke="#00847e" stroke-width="0.70" stroke-opacity="0.47"/>
<circle cx="266.3" cy="311.1" r="0.9" fill="#00847e" fill-opacity="0.72" stroke="none"/>
<path d="M342.8,309.5 L339.2,308.2 L339.5,311.5 Z" fill="#00847e" fill-opacity="0.72" stroke="none"/>
<path d="M565.4,440.6 L568.0,441.8 L570.7,439.9 L573.4,441.1" stroke="#4c6a9c" stroke-width="0.70" stroke-opacity="0.47"/>
<circle cx="565.4" cy="440.6" r="0.9" fill="#4c6a9c" fill-opacity="0.72" stroke="none"/>
<path d="M574.8,441.7 L572.3,438.7 L571.0,441.9 Z" fill="#4c6a9c" fill-opacity="0.72" stroke="none"/>
<path d="M376.6,384.8 L382.7,387.1 L388.9,385.6 L395.0,390.2 L401.1,395.7 L407.2,393.5 L413.4,399.7 L419.5,403.6 L425.6,399.8 L431.7,404.3 L437.9,412.2 L444.0,411.0 L450.1,407.8 L456.3,416.0 L462.4,421.5 L468.5,417.2 L474.6,421.1 L480.8,421.3 L486.9,419.6 L493.0,428.0 L499.1,430.0" stroke="#38aaba" stroke-width="0.70" stroke-opacity="0.47"/>
<circle cx="376.6" cy="384.8" r="0.9" fill="#38aaba" fill-opacity="0.72" stroke="none"/>
<path d="M500.6,430.5 L497.9,427.8 L496.8,431.0 Z" fill="#38aaba" fill-opacity="0.72" stroke="none"/>
<path d="M306.6,366.9 L312.9,368.3 L319.1,375.7 L325.4,373.1 L331.6,380.0 L337.9,381.9 L344.1,381.4 L350.4,385.6 L356.6,390.3 L362.9,389.9 L369.1,394.4 L375.4,396.0" stroke="#00847e" stroke-width="0.70" stroke-opacity="0.47"/>
<circle cx="306.6" cy="366.9" r="0.9" fill="#00847e" fill-opacity="0.72" stroke="none"/>
<path d="M376.9,396.4 L374.0,393.9 L373.2,397.2 Z" fill="#00847e" fill-opacity="0.72" stroke="none"/>
<path d="M357.4,388.9 L363.5,389.9 L369.6,392.6 L375.7,394.7 L381.8,395.4 L387.9,397.7 L394.0,400.5 L400.1,401.9" stroke="#883039" stroke-width="0.70" stroke-opacity="0.47"/>
<circle cx="357.4" cy="388.9" r="0.9" fill="#883039" fill-opacity="0.72" stroke="none"/>
<path d="M401.6,402.3 L398.7,399.8 L397.9,403.2 Z" fill="#883039" fill-opacity="0.72" stroke="none"/>
<path d="M275.6,324.3 L282.0,325.2 L288.5,325.4 L294.9,325.4 L301.4,325.7 L307.9,325.8 L314.3,326.9 L320.8,327.3 L327.2,327.7" stroke="#00847e" stroke-width="0.70" stroke-opacity="0.47"/>
<circle cx="275.6" cy="324.3" r="0.9" fill="#00847e" fill-opacity="0.72" stroke="none"/>
<path d="M328.8,327.7 L325.4,325.9 L325.3,329.3 Z" fill="#00847e" fill-opacity="0.72" stroke="none"/>
<path d="M349.2,381.0 L355.5,384.2 L361.8,382.9 L368.0,388.9 L374.3,391.6 L380.6,389.9 L386.9,398.6 L393.2,399.0 L399.5,398.5 L405.8,401.5 L412.1,402.7 L418.4,407.9 L424.6,406.5 L430.9,407.8 L437.2,411.1 L443.5,412.0 L449.8,415.8" stroke="#4c6a9c" stroke-width="0.70" stroke-opacity="0.47"/>
<circle cx="349.2" cy="381.0" r="0.9" fill="#4c6a9c" fill-opacity="0.72" stroke="none"/>
<path d="M451.1,416.6 L449.1,413.4 L447.3,416.3 Z" fill="#4c6a9c" fill-opacity="0.72" stroke="none"/>
<path d="M193.1,294.5 L199.2,298.4 L205.4,305.0 L211.5,305.4 L217.7,304.1 L223.8,308.7 L230.0,312.3 L236.1,320.7 L242.3,317.3 L248.4,319.7 L254.6,328.2 L260.7,326.3 L266.9,331.6 L273.0,339.1 L279.1,337.7 L285.3,340.8 L291.4,346.2 L297.6,347.0 L303.7,354.7 L309.9,355.3 L316.0,360.8 L322.2,363.1 L328.3,363.4 L334.5,367.3 L340.6,370.5 L346.8,374.2 L352.9,383.6 L359.1,379.6 L365.2,388.5 L371.4,388.2" stroke="#00847e" stroke-width="1.00" stroke-opacity="0.50"/>
<circle cx="193.1" cy="294.5" r="0.9" fill="#00847e" fill-opacity="0.75" stroke="none"/>
<path d="M372.9,388.1 L369.4,386.6 L369.6,390.0 Z" fill="#00847e" fill-opacity="0.75" stroke="none"/>
<path d="M410.0,399.1 L416.0,401.0 L422.1,403.7 L428.2,405.8 L434.3,407.2 L440.4,408.2 L446.5,410.9 L452.6,410.0 L458.7,411.3 L464.7,412.5 L470.8,415.5 L476.9,418.7 L483.0,422.4 L489.1,418.8 L495.2,420.0 L501.3,424.3" stroke="#4c6a9c" stroke-width="0.70" stroke-opacity="0.47"/>
<circle cx="410.0" cy="399.1" r="0.9" fill="#4c6a9c" fill-opacity="0.72" stroke="none"/>
<path d="M502.5,425.2 L500.7,421.9 L498.8,424.7 Z" fill="#4c6a9c" fill-opacity="0.72" stroke="none"/>
<path d="M313.2,305.3 L319.3,308.6 L325.5,312.3 L331.6,314.2 L337.7,317.8 L343.9,321.8 L350.0,326.3 L356.1,327.3 L362.3,331.7 L368.4,335.2 L374.5,336.1 L380.6,339.7 L386.8,345.6 L392.9,348.2 L399.0,351.3 L405.2,354.8" stroke="#a2559c" stroke-width="0.70" stroke-opacity="0.47"/>
<circle cx="313.2" cy="305.3" r="0.9" fill="#a2559c" fill-opacity="0.72" stroke="none"/>
<path d="M406.5,355.6 L404.4,352.4 L402.7,355.4 Z" fill="#a2559c" fill-opacity="0.72" stroke="none"/>
<path d="M236.7,278.8 L242.8,280.3 L248.9,284.3 L255.0,285.9 L261.1,286.2 L267.2,292.8 L273.3,294.6 L279.5,297.5 L285.6,300.4 L291.7,303.6 L297.8,302.0 L303.9,305.3 L310.0,307.4 L316.1,313.7 L322.2,314.4 L328.4,317.4 L334.5,318.4 L340.6,321.9 L346.7,328.0 L352.8,327.9 L358.9,330.3 L365.0,330.8 L371.1,335.6 L377.3,336.3 L383.4,340.3 L389.5,343.6 L395.6,344.7 L401.7,346.9 L407.8,350.2 L413.9,352.4" stroke="#a2559c" stroke-width="0.70" stroke-opacity="0.47"/>
<circle cx="236.7" cy="278.8" r="0.9" fill="#a2559c" fill-opacity="0.72" stroke="none"/>
<path d="M415.4,352.9 L412.8,350.1 L411.6,353.3 Z" fill="#a2559c" fill-opacity="0.72" stroke="none"/>
<path d="M381.8,387.8 L388.3,391.7 L394.8,393.0 L401.3,398.7 L407.8,401.8 L414.3,404.2 L420.8,406.7" stroke="#00847e" stroke-width="0.70" stroke-opacity="0.47"/>
<circle cx="381.8" cy="387.8" r="0.9" fill="#00847e" fill-opacity="0.72" stroke="none"/>
<path d="M422.3,407.3 L419.7,404.4 L418.5,407.6 Z" fill="#00847e" fill-opacity="0.72" stroke="none"/>
<path d="M383.9,363.0 L390.1,365.3 L396.2,366.2 L402.3,372.7 L408.5,371.1 L414.6,375.4 L420.8,382.4 L426.9,381.6 L433.0,386.3 L439.2,389.9 L445.3,393.6 L451.5,397.1 L457.6,399.6 L463.7,401.5 L469.9,407.6 L476.0,407.6 L482.2,409.3 L488.3,414.2 L494.4,417.8 L500.6,419.3 L506.7,421.8 L512.9,425.5" stroke="#e56e5a" stroke-width="0.70" stroke-opacity="0.47"/>
<circle cx="383.9" cy="363.0" r="0.9" fill="#e56e5a" fill-opacity="0.72" stroke="none"/>
<path d="M514.2,426.3 L512.2,423.1 L510.4,426.0 Z" fill="#e56e5a" fill-opacity="0.72" stroke="none"/>
<path d="M283.2,329.1 L289.3,331.9 L295.3,335.2 L301.4,339.9 L307.5,340.9 L313.6,344.4 L319.7,352.3 L325.8,350.2 L331.8,358.2 L337.9,361.9 L344.0,362.2 L350.1,367.4 L356.2,367.9 L362.3,374.7 L368.3,377.5" stroke="#4c6a9c" stroke-width="1.50" stroke-opacity="0.40"/>
<circle cx="283.2" cy="329.1" r="0.9" fill="#4c6a9c" fill-opacity="0.65" stroke="none"/>
<path d="M369.7,378.2 L367.4,375.2 L365.9,378.3 Z" fill="#4c6a9c" fill-opacity="0.65" stroke="none"/>
<path d="M387.7,351.0 L393.8,354.5 L399.9,358.3 L406.0,364.5 L412.0,366.7 L418.1,369.7 L424.2,371.0 L430.2,376.3 L436.3,380.7 L442.4,385.5 L448.4,386.8 L454.5,392.0" stroke="#00847e" stroke-width="0.70" stroke-opacity="0.47"/>
<circle cx="387.7" cy="351.0" r="0.9" fill="#00847e" fill-opacity="0.72" stroke="none"/>
<path d="M455.7,393.0 L454.2,389.5 L452.0,392.1 Z" fill="#00847e" fill-opacity="0.72" stroke="none"/>
<path d="M401.7,399.1 L407.9,400.3 L414.2,402.1 L420.4,403.3 L426.6,402.4 L432.8,403.7 L439.1,406.1 L445.3,405.8 L451.5,408.0 L457.7,406.3 L464.0,410.3 L470.2,410.9 L476.4,411.1 L482.6,412.1 L488.9,411.5 L495.1,412.5 L501.3,415.1 L507.5,416.4 L513.8,416.9 L520.0,417.7 L526.2,419.6 L532.4,420.4 L538.7,420.6" stroke="#a2559c" stroke-width="0.70" stroke-opacity="0.47"/>
<circle cx="401.7" cy="399.1" r="0.9" fill="#a2559c" fill-opacity="0.72" stroke="none"/>
<path d="M540.2,420.7 L536.9,418.8 L536.8,422.2 Z" fill="#a2559c" fill-opacity="0.72" stroke="none"/>
<path d="M475.8,433.4 L481.9,432.9 L488.1,434.4 L494.2,434.8 L500.4,433.1 L506.6,434.7 L512.7,434.2 L518.9,434.3 L525.1,436.1 L531.2,437.0 L537.4,436.6 L543.5,435.8 L549.7,436.2 L555.9,438.2 L562.0,437.7 L568.2,438.4 L574.4,438.3 L580.5,438.8" stroke="#00847e" stroke-width="0.70" stroke-opacity="0.50"/>
<circle cx="475.8" cy="433.4" r="0.9" fill="#00847e" fill-opacity="0.75" stroke="none"/>
<path d="M582.1,439.0 L578.8,437.0 L578.5,440.4 Z" fill="#00847e" fill-opacity="0.75" stroke="none"/>
<path d="M437.0,432.8 L443.3,433.6 L449.6,436.0 L455.8,435.0 L462.1,433.3 L468.4,435.2 L474.7,437.8 L480.9,437.8 L487.2,438.0 L493.5,438.1 L499.8,439.8 L506.0,440.3 L512.3,441.6 L518.6,442.5 L524.9,442.1" stroke="#00847e" stroke-width="0.70" stroke-opacity="0.50"/>
<circle cx="437.0" cy="432.8" r="0.9" fill="#00847e" fill-opacity="0.75" stroke="none"/>
<path d="M526.4,442.0 L522.9,440.5 L523.1,443.9 Z" fill="#00847e" fill-opacity="0.75" stroke="none"/>
<path d="M375.3,405.7 L381.7,406.4 L388.1,407.5 L394.5,409.1 L400.9,412.2 L407.3,412.3 L413.7,415.0 L420.1,415.2 L426.5,415.0 L432.9,417.2 L439.3,420.4 L445.6,421.3 L452.0,421.6 L458.4,423.1" stroke="#e56e5a" stroke-width="0.70" stroke-opacity="0.50"/>
<circle cx="375.3" cy="405.7" r="0.9" fill="#e56e5a" fill-opacity="0.75" stroke="none"/>
<path d="M459.9,423.4 L457.0,421.0 L456.2,424.4 Z" fill="#e56e5a" fill-opacity="0.75" stroke="none"/>
<path d="M397.0,434.9 L403.3,435.6 L409.6,436.6 L416.0,437.7 L422.3,442.6 L428.6,442.4 L434.9,445.0 L441.2,445.3 L447.5,446.6" stroke="#4c6a9c" stroke-width="0.70" stroke-opacity="0.50"/>
<circle cx="397.0" cy="434.9" r="0.9" fill="#4c6a9c" fill-opacity="0.75" stroke="none"/>
<path d="M449.1,446.9 L446.1,444.5 L445.4,447.9 Z" fill="#4c6a9c" fill-opacity="0.75" stroke="none"/>
<path d="M380.4,411.1 L386.5,413.0 L392.5,414.3 L398.5,416.7 L404.5,418.7 L410.6,421.0 L416.6,422.0 L422.6,423.1 L428.7,426.4 L434.7,427.1 L440.7,428.7 L446.8,432.6 L452.8,430.9 L458.8,433.8 L464.8,435.5" stroke="#00847e" stroke-width="0.70" stroke-opacity="0.50"/>
<circle cx="380.4" cy="411.1" r="0.9" fill="#00847e" fill-opacity="0.75" stroke="none"/>
<path d="M466.3,436.0 L463.5,433.4 L462.6,436.7 Z" fill="#00847e" fill-opacity="0.75" stroke="none"/>
<path d="M404.6,421.6 L411.2,421.6 L417.8,420.8 L424.4,420.2 L430.9,419.8 L437.5,422.1 L444.1,421.0 L450.7,419.5 L457.3,420.7 L463.9,426.3 L470.5,421.6" stroke="#e56e5a" stroke-width="0.70" stroke-opacity="0.50"/>
<circle cx="404.6" cy="421.6" r="0.9" fill="#e56e5a" fill-opacity="0.75" stroke="none"/>
<path d="M471.8,420.7 L468.0,421.3 L470.0,424.1 Z" fill="#e56e5a" fill-opacity="0.75" stroke="none"/>
<path d="M437.1,426.5 L443.2,424.5 L449.3,428.9 L455.4,432.1 L461.5,427.9 L467.6,428.3 L473.7,432.0 L479.8,431.0 L485.9,430.5 L492.0,431.8 L498.1,433.0" stroke="#00847e" stroke-width="0.70" stroke-opacity="0.50"/>
<circle cx="437.1" cy="426.5" r="0.9" fill="#00847e" fill-opacity="0.75" stroke="none"/>
<path d="M499.6,433.3 L496.6,430.9 L496.0,434.3 Z" fill="#00847e" fill-opacity="0.75" stroke="none"/>
<path d="M464.3,434.5 L470.5,433.5 L476.8,437.2 L483.0,436.2 L489.3,434.6 L495.5,434.4 L501.8,433.1 L508.1,433.3 L514.3,437.2 L520.6,437.7 L526.8,435.8 L533.1,438.6 L539.3,435.9 L545.6,438.3 L551.9,433.3 L558.1,439.8 L564.4,438.2" stroke="#e56e5a" stroke-width="0.70" stroke-opacity="0.50"/>
<circle cx="464.3" cy="434.5" r="0.9" fill="#e56e5a" fill-opacity="0.75" stroke="none"/>
<path d="M565.9,437.8 L562.1,437.0 L563.0,440.3 Z" fill="#e56e5a" fill-opacity="0.75" stroke="none"/>
<path d="M479.4,433.1 L485.5,437.0 L491.6,433.9 L497.8,432.0 L503.9,432.5 L510.0,431.5 L516.1,434.0 L522.2,435.2 L528.3,432.1" stroke="#4c6a9c" stroke-width="0.70" stroke-opacity="0.50"/>
<circle cx="479.4" cy="433.1" r="0.9" fill="#4c6a9c" fill-opacity="0.75" stroke="none"/>
<path d="M529.7,431.4 L525.9,431.4 L527.4,434.5 Z" fill="#4c6a9c" fill-opacity="0.75" stroke="none"/>
<path d="M375.4,424.0 L381.5,425.0 L387.5,425.0 L393.6,425.7 L399.7,424.6 L405.8,427.2 L411.9,426.9 L417.9,427.3 L424.0,428.5 L430.1,428.2 L436.2,428.6 L442.3,429.7 L448.4,429.4 L454.4,430.2 L460.5,430.1 L466.6,430.4 L472.7,431.3" stroke="#00847e" stroke-width="0.70" stroke-opacity="0.50"/>
<circle cx="375.4" cy="424.0" r="0.9" fill="#00847e" fill-opacity="0.75" stroke="none"/>
<path d="M474.2,431.5 L471.1,429.3 L470.6,432.7 Z" fill="#00847e" fill-opacity="0.75" stroke="none"/>
</g>
<text x="128.7" y="198.7" font-size="12.5" fill="#a2559c" textLength="43.3" lengthAdjust="spacingAndGlyphs" stroke="#fff" stroke-width="2.5" stroke-opacity="0.0" paint-order="stroke">Burundi</text>
<text x="81.2" y="231.7" font-size="12.5" fill="#a2559c" textLength="71.8" lengthAdjust="spacingAndGlyphs" stroke="#fff" stroke-width="2.5" stroke-opacity="0.0" paint-order="stroke">Mozambique</text>
<text x="180.0" y="238.2" font-size="12.5" fill="#a2559c" textLength="46.5" lengthAdjust="spacingAndGlyphs" stroke="#fff" stroke-width="2.5" stroke-opacity="0.0" paint-order="stroke">Ethiopia</text>
<text x="198.2" y="258.0" font-size="12.5" fill="#a2559c" textLength="38.8" lengthAdjust="spacingAndGlyphs" stroke="#fff" stroke-width="2.5" stroke-opacity="0.0" paint-order="stroke">Guinea</text>
<text x="252.5" y="247.5" font-size="12.5" fill="#a2559c" textLength="47.0" lengthAdjust="spacingAndGlyphs" stroke="#fff" stroke-width="2.5" stroke-opacity="0.0" paint-order="stroke">Tanzania</text>
<text x="328.0" y="246.7" font-size="12.5" fill="#00847e" textLength="24.6" lengthAdjust="spacingAndGlyphs" stroke="#fff" stroke-width="2.5" stroke-opacity="0.0" paint-order="stroke">Laos</text>
<text x="276.2" y="279.2" font-size="12.5" fill="#a2559c" textLength="34.5" lengthAdjust="spacingAndGlyphs" stroke="#fff" stroke-width="2.5" stroke-opacity="0.0" paint-order="stroke">Kenya</text>
<text x="339.4" y="307.9" font-size="16.4" fill="#00847e" textLength="32.6" lengthAdjust="spacingAndGlyphs" stroke="#fff" stroke-width="2.5" stroke-opacity="0.0" paint-order="stroke">India</text>
<text x="395.0" y="301.6" font-size="12.5" fill="#a2559c" textLength="38.2" lengthAdjust="spacingAndGlyphs" stroke="#fff" stroke-width="2.5" stroke-opacity="0.0" paint-order="stroke">Angola</text>
<text x="222.5" y="299.0" font-size="12.5" fill="#00847e" textLength="66.7" lengthAdjust="spacingAndGlyphs" stroke="#fff" stroke-width="2.5" stroke-opacity="0.0" paint-order="stroke">Afghanistan</text>
<text x="482.5" y="355.5" font-size="12.5" fill="#4c6a9c" textLength="47.5" lengthAdjust="spacingAndGlyphs" stroke="#fff" stroke-width="2.5" stroke-opacity="0.0" paint-order="stroke">Romania</text>
<text x="485.6" y="380.2" font-size="12.5" fill="#00847e" textLength="37.4" lengthAdjust="spacingAndGlyphs" stroke="#fff" stroke-width="2.5" stroke-opacity="0.0" paint-order="stroke">Turkey</text>
<text x="549.5" y="397.0" font-size="12.5" fill="#a2559c" textLength="28.0" lengthAdjust="spacingAndGlyphs" stroke="#fff" stroke-width="2.5" stroke-opacity="0.0" paint-order="stroke">Libya</text>
<text x="468.2" y="422.5" font-size="13.5" fill="#883039" textLength="33.0" lengthAdjust="spacingAndGlyphs" stroke="#fff" stroke-width="2.5" stroke-opacity="0.0" paint-order="stroke">Brazil</text>
<text x="516.5" y="437.4" font-size="13" fill="#4c6a9c" textLength="36.5" lengthAdjust="spacingAndGlyphs" stroke="#fff" stroke-width="2.5" stroke-opacity="0.0" paint-order="stroke">Russia</text>
<text x="569.2" y="441.5" font-size="12.5" fill="#4c6a9c" textLength="23.8" lengthAdjust="spacingAndGlyphs" stroke="#fff" stroke-width="2.5" stroke-opacity="0.0" paint-order="stroke">Italy</text>
<text x="608.9" y="448.6" font-size="13.5" fill="#e56e5a" textLength="82.4" lengthAdjust="spacingAndGlyphs" stroke="#fff" stroke-width="2.5" stroke-opacity="0.0" paint-order="stroke">United States</text>
<text x="348.5" y="336.5" font-size="12.5" fill="#a2559c" textLength="41.5" lengthAdjust="spacingAndGlyphs" stroke="#fff" stroke-width="2.5" stroke-opacity="0.0" paint-order="stroke">Nigeria</text>
<text x="252.8" y="348.5" font-size="12.5" fill="#a2559c" textLength="42.8" lengthAdjust="spacingAndGlyphs" stroke="#fff" stroke-width="2.5" stroke-opacity="0.0" paint-order="stroke">Senegal</text>
<text x="353.7" y="362.5" font-size="12.5" fill="#883039" textLength="35.8" lengthAdjust="spacingAndGlyphs" stroke="#fff" stroke-width="2.5" stroke-opacity="0.0" paint-order="stroke">Bolivia</text>
<text x="345.4" y="390.0" font-size="12.5" fill="#00847e" textLength="36.8" lengthAdjust="spacingAndGlyphs" stroke="#fff" stroke-width="2.5" stroke-opacity="0.0" paint-order="stroke">Yemen</text>
<text x="345.0" y="419.5" font-size="12.5" fill="#00847e" textLength="26.5" lengthAdjust="spacingAndGlyphs" stroke="#fff" stroke-width="2.5" stroke-opacity="0.0" paint-order="stroke">Syria</text>
<text x="396.5" y="442.2" font-size="12.5" fill="#00847e" textLength="36.5" lengthAdjust="spacingAndGlyphs" stroke="#fff" stroke-width="2.5" stroke-opacity="0.0" paint-order="stroke">Jordan</text>
<text x="424.3" y="353.0" font-size="16.4" fill="#00847e" textLength="39.0" lengthAdjust="spacingAndGlyphs" stroke="#fff" stroke-width="2.5" stroke-opacity="0.0" paint-order="stroke">China</text>
<text x="435.6" y="377.5" font-size="12.5" fill="#a2559c" textLength="32.0" lengthAdjust="spacingAndGlyphs" stroke="#fff" stroke-width="2.5" stroke-opacity="0.0" paint-order="stroke">Egypt</text>
<text x="423.0" y="401.8" font-size="12.5" fill="#4c6a9c" textLength="43.8" lengthAdjust="spacingAndGlyphs" stroke="#fff" stroke-width="2.5" stroke-opacity="0.0" paint-order="stroke">Ukraine</text>
<text x="150.0" y="320.5" font-size="12.5" fill="#a2559c" textLength="36.4" lengthAdjust="spacingAndGlyphs" stroke="#fff" stroke-width="2.5" stroke-opacity="0.0" paint-order="stroke">Liberia</text>
<text x="198.0" y="319.0" font-size="12.5" fill="#a2559c" textLength="70.6" lengthAdjust="spacingAndGlyphs" stroke="#fff" stroke-width="2.5" stroke-opacity="0.0" paint-order="stroke">Burkina Faso</text>
<text x="184.0" y="350.4" font-size="12.5" fill="#e56e5a" textLength="26.0" lengthAdjust="spacingAndGlyphs" stroke="#fff" stroke-width="2.5" stroke-opacity="0.0" paint-order="stroke">Haiti</text>
<text x="233.0" y="367.5" font-size="12.5" fill="#a2559c" textLength="40.7" lengthAdjust="spacingAndGlyphs" stroke="#fff" stroke-width="2.5" stroke-opacity="0.0" paint-order="stroke">Gambia</text>
<rect x="737" y="155.0" width="9" height="8.8" fill="#a2559c"/>
<text x="751.2" y="163.5" class="lg" textLength="32.2" lengthAdjust="spacingAndGlyphs" >Africa</text>
<rect x="737" y="172.6" width="9" height="8.8" fill="#00847e"/>
<text x="751.2" y="181.1" class="lg" textLength="22.6" lengthAdjust="spacingAndGlyphs" >Asia</text>
<rect x="737" y="190.2" width="9" height="8.8" fill="#4c6a9c"/>
<text x="751.2" y="198.7" class="lg" textLength="38.9" lengthAdjust="spacingAndGlyphs" >Europe</text>
<rect x="737" y="207.8" width="9" height="8.8" fill="#e56e5a"/>
<text x="751.2" y="216.3" class="lg" textLength="80.2" lengthAdjust="spacingAndGlyphs" >North America</text>
<rect x="737" y="225.4" width="9" height="8.8" fill="#38aaba"/>
<text x="751.2" y="233.9" class="lg" textLength="44.8" lengthAdjust="spacingAndGlyphs" >Oceania</text>
<rect x="737" y="243.0" width="9" height="8.8" fill="#883039"/>
<text x="751.2" y="251.5" class="lg" textLength="80.0" lengthAdjust="spacingAndGlyphs" >South America</text>
<line x1="737" x2="834" y1="266.2" y2="266.2" stroke="#e7e7e7" stroke-width="1"/>
<text x="737.0" y="284.6" class="tick" textLength="28.8" lengthAdjust="spacingAndGlyphs" >1800</text>
<text x="806.0" y="284.6" class="tick" textLength="29.0" lengthAdjust="spacingAndGlyphs" >2010</text>
<line x1="770.2" x2="799" y1="280" y2="280" stroke="#787878" stroke-width="1"/>
<circle cx="770.2" cy="280" r="1.8" fill="#6e6e6e"/>
<circle cx="780.4" cy="280" r="1.8" fill="#6e6e6e"/>
<circle cx="790.4" cy="280" r="1.8" fill="#6e6e6e"/>
<path d="M803.6,280 L798,277.2 L798,282.8 Z" fill="#6e6e6e"/>
<text y="524.9" class="ft"><tspan x="16.8" class="b" textLength="71.2" lengthAdjust="spacingAndGlyphs">Data source:</tspan><tspan> </tspan><tspan x="92.6" textLength="716" lengthAdjust="spacingAndGlyphs">Our World in Data based on International Labor Organization (via the World Bank) and historical sources; Bolt and van Zanden</tspan></text>
<text x="16.8" y="540.5" class="ft" textLength="199.6" lengthAdjust="spacingAndGlyphs" >– Maddison Project Database 2023</text>
<text y="560.6" class="ft"><tspan x="16.8" class="b" textLength="30.7" lengthAdjust="spacingAndGlyphs">Note:</tspan><tspan> </tspan><tspan x="52" textLength="348" lengthAdjust="spacingAndGlyphs">GDP per capita is expressed in international-$ at 2011 prices.</tspan></text>
<text x="16.8" y="580.0" class="ft" textLength="319.2" lengthAdjust="spacingAndGlyphs" >OurWorldinData.org/employment-in-agriculture | CC BY</text>
</svg></body></html>
